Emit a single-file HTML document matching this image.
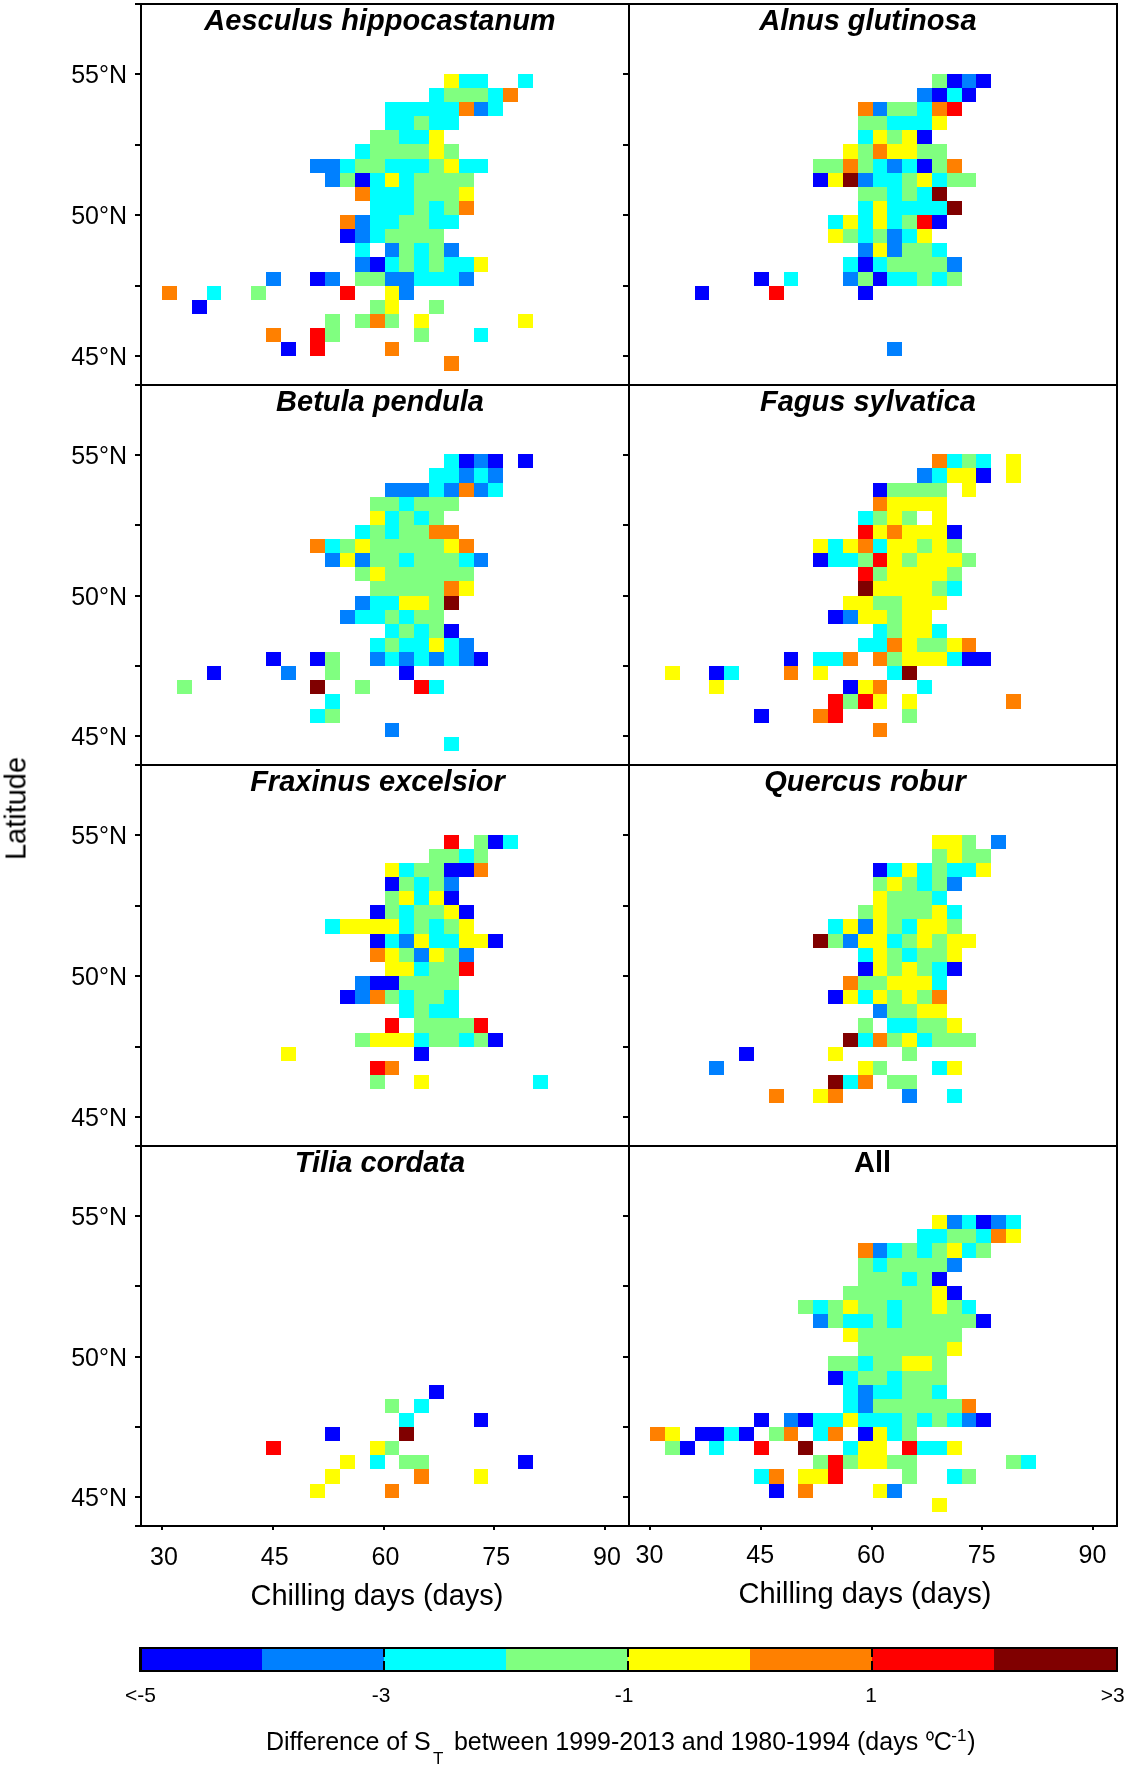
<!DOCTYPE html>
<html><head><meta charset="utf-8"><style>
html,body{margin:0;padding:0;background:#fff;}
body{width:1129px;height:1768px;overflow:hidden;}
svg{display:block;}
text{font-family:"Liberation Sans",sans-serif;fill:#000;}
.tt{font-size:29px;font-weight:bold;font-style:italic;}
.tt2{font-size:29px;font-weight:bold;}
.yl{font-size:25px;}
.xl{font-size:25px;}
.ax{font-size:29px;}
.cl{font-size:21px;}
.lb{font-size:25px;}
.lbs{font-size:17px;}
.lbo{font-size:22px;}
</style></head><body>
<svg width="1129" height="1768" viewBox="0 0 1129 1768" shape-rendering="crispEdges">
<rect width="1129" height="1768" fill="#fff"/>
<g><rect x="443.96" y="73.80" width="14.84" height="14.13" fill="#ffff00"/>
<rect x="458.80" y="73.80" width="14.84" height="14.13" fill="#00ffff"/>
<rect x="473.64" y="73.80" width="14.84" height="14.13" fill="#00ffff"/>
<rect x="518.16" y="73.80" width="14.84" height="14.13" fill="#00ffff"/>
<rect x="429.12" y="87.93" width="14.84" height="14.13" fill="#00ffff"/>
<rect x="443.96" y="87.93" width="14.84" height="14.13" fill="#80ff80"/>
<rect x="458.80" y="87.93" width="14.84" height="14.13" fill="#80ff80"/>
<rect x="473.64" y="87.93" width="14.84" height="14.13" fill="#80ff80"/>
<rect x="488.48" y="87.93" width="14.84" height="14.13" fill="#00ffff"/>
<rect x="503.32" y="87.93" width="14.84" height="14.13" fill="#ff8000"/>
<rect x="384.60" y="102.06" width="14.84" height="14.13" fill="#00ffff"/>
<rect x="399.44" y="102.06" width="14.84" height="14.13" fill="#00ffff"/>
<rect x="414.28" y="102.06" width="14.84" height="14.13" fill="#00ffff"/>
<rect x="429.12" y="102.06" width="14.84" height="14.13" fill="#00ffff"/>
<rect x="443.96" y="102.06" width="14.84" height="14.13" fill="#00ffff"/>
<rect x="458.80" y="102.06" width="14.84" height="14.13" fill="#ff8000"/>
<rect x="473.64" y="102.06" width="14.84" height="14.13" fill="#0080ff"/>
<rect x="488.48" y="102.06" width="14.84" height="14.13" fill="#00ffff"/>
<rect x="384.60" y="116.19" width="14.84" height="14.13" fill="#00ffff"/>
<rect x="399.44" y="116.19" width="14.84" height="14.13" fill="#00ffff"/>
<rect x="414.28" y="116.19" width="14.84" height="14.13" fill="#80ff80"/>
<rect x="429.12" y="116.19" width="14.84" height="14.13" fill="#00ffff"/>
<rect x="443.96" y="116.19" width="14.84" height="14.13" fill="#00ffff"/>
<rect x="369.76" y="130.32" width="14.84" height="14.13" fill="#80ff80"/>
<rect x="384.60" y="130.32" width="14.84" height="14.13" fill="#80ff80"/>
<rect x="399.44" y="130.32" width="14.84" height="14.13" fill="#00ffff"/>
<rect x="414.28" y="130.32" width="14.84" height="14.13" fill="#00ffff"/>
<rect x="429.12" y="130.32" width="14.84" height="14.13" fill="#ffff00"/>
<rect x="354.92" y="144.45" width="14.84" height="14.13" fill="#00ffff"/>
<rect x="369.76" y="144.45" width="14.84" height="14.13" fill="#80ff80"/>
<rect x="384.60" y="144.45" width="14.84" height="14.13" fill="#80ff80"/>
<rect x="399.44" y="144.45" width="14.84" height="14.13" fill="#80ff80"/>
<rect x="414.28" y="144.45" width="14.84" height="14.13" fill="#80ff80"/>
<rect x="429.12" y="144.45" width="14.84" height="14.13" fill="#ffff00"/>
<rect x="443.96" y="144.45" width="14.84" height="14.13" fill="#80ff80"/>
<rect x="310.40" y="158.58" width="14.84" height="14.13" fill="#0080ff"/>
<rect x="325.24" y="158.58" width="14.84" height="14.13" fill="#0080ff"/>
<rect x="340.08" y="158.58" width="14.84" height="14.13" fill="#00ffff"/>
<rect x="354.92" y="158.58" width="14.84" height="14.13" fill="#80ff80"/>
<rect x="369.76" y="158.58" width="14.84" height="14.13" fill="#80ff80"/>
<rect x="384.60" y="158.58" width="14.84" height="14.13" fill="#00ffff"/>
<rect x="399.44" y="158.58" width="14.84" height="14.13" fill="#00ffff"/>
<rect x="414.28" y="158.58" width="14.84" height="14.13" fill="#00ffff"/>
<rect x="429.12" y="158.58" width="14.84" height="14.13" fill="#80ff80"/>
<rect x="443.96" y="158.58" width="14.84" height="14.13" fill="#ffff00"/>
<rect x="458.80" y="158.58" width="14.84" height="14.13" fill="#00ffff"/>
<rect x="473.64" y="158.58" width="14.84" height="14.13" fill="#00ffff"/>
<rect x="325.24" y="172.71" width="14.84" height="14.13" fill="#0080ff"/>
<rect x="340.08" y="172.71" width="14.84" height="14.13" fill="#80ff80"/>
<rect x="354.92" y="172.71" width="14.84" height="14.13" fill="#0000ff"/>
<rect x="369.76" y="172.71" width="14.84" height="14.13" fill="#00ffff"/>
<rect x="384.60" y="172.71" width="14.84" height="14.13" fill="#ffff00"/>
<rect x="399.44" y="172.71" width="14.84" height="14.13" fill="#00ffff"/>
<rect x="414.28" y="172.71" width="14.84" height="14.13" fill="#80ff80"/>
<rect x="429.12" y="172.71" width="14.84" height="14.13" fill="#80ff80"/>
<rect x="443.96" y="172.71" width="14.84" height="14.13" fill="#80ff80"/>
<rect x="458.80" y="172.71" width="14.84" height="14.13" fill="#80ff80"/>
<rect x="354.92" y="186.84" width="14.84" height="14.13" fill="#ff8000"/>
<rect x="369.76" y="186.84" width="14.84" height="14.13" fill="#00ffff"/>
<rect x="384.60" y="186.84" width="14.84" height="14.13" fill="#00ffff"/>
<rect x="399.44" y="186.84" width="14.84" height="14.13" fill="#00ffff"/>
<rect x="414.28" y="186.84" width="14.84" height="14.13" fill="#80ff80"/>
<rect x="429.12" y="186.84" width="14.84" height="14.13" fill="#80ff80"/>
<rect x="443.96" y="186.84" width="14.84" height="14.13" fill="#80ff80"/>
<rect x="458.80" y="186.84" width="14.84" height="14.13" fill="#ffff00"/>
<rect x="369.76" y="200.97" width="14.84" height="14.13" fill="#00ffff"/>
<rect x="384.60" y="200.97" width="14.84" height="14.13" fill="#00ffff"/>
<rect x="399.44" y="200.97" width="14.84" height="14.13" fill="#00ffff"/>
<rect x="414.28" y="200.97" width="14.84" height="14.13" fill="#80ff80"/>
<rect x="429.12" y="200.97" width="14.84" height="14.13" fill="#00ffff"/>
<rect x="443.96" y="200.97" width="14.84" height="14.13" fill="#80ff80"/>
<rect x="458.80" y="200.97" width="14.84" height="14.13" fill="#ff8000"/>
<rect x="340.08" y="215.10" width="14.84" height="14.13" fill="#ff8000"/>
<rect x="354.92" y="215.10" width="14.84" height="14.13" fill="#0080ff"/>
<rect x="369.76" y="215.10" width="14.84" height="14.13" fill="#00ffff"/>
<rect x="384.60" y="215.10" width="14.84" height="14.13" fill="#00ffff"/>
<rect x="399.44" y="215.10" width="14.84" height="14.13" fill="#80ff80"/>
<rect x="414.28" y="215.10" width="14.84" height="14.13" fill="#80ff80"/>
<rect x="429.12" y="215.10" width="14.84" height="14.13" fill="#00ffff"/>
<rect x="443.96" y="215.10" width="14.84" height="14.13" fill="#00ffff"/>
<rect x="340.08" y="229.23" width="14.84" height="14.13" fill="#0000ff"/>
<rect x="354.92" y="229.23" width="14.84" height="14.13" fill="#0080ff"/>
<rect x="369.76" y="229.23" width="14.84" height="14.13" fill="#00ffff"/>
<rect x="384.60" y="229.23" width="14.84" height="14.13" fill="#80ff80"/>
<rect x="399.44" y="229.23" width="14.84" height="14.13" fill="#80ff80"/>
<rect x="414.28" y="229.23" width="14.84" height="14.13" fill="#80ff80"/>
<rect x="429.12" y="229.23" width="14.84" height="14.13" fill="#80ff80"/>
<rect x="354.92" y="243.36" width="14.84" height="14.13" fill="#00ffff"/>
<rect x="384.60" y="243.36" width="14.84" height="14.13" fill="#0080ff"/>
<rect x="399.44" y="243.36" width="14.84" height="14.13" fill="#80ff80"/>
<rect x="414.28" y="243.36" width="14.84" height="14.13" fill="#00ffff"/>
<rect x="429.12" y="243.36" width="14.84" height="14.13" fill="#80ff80"/>
<rect x="443.96" y="243.36" width="14.84" height="14.13" fill="#0080ff"/>
<rect x="354.92" y="257.49" width="14.84" height="14.13" fill="#0080ff"/>
<rect x="369.76" y="257.49" width="14.84" height="14.13" fill="#0000ff"/>
<rect x="384.60" y="257.49" width="14.84" height="14.13" fill="#00ffff"/>
<rect x="399.44" y="257.49" width="14.84" height="14.13" fill="#80ff80"/>
<rect x="414.28" y="257.49" width="14.84" height="14.13" fill="#00ffff"/>
<rect x="429.12" y="257.49" width="14.84" height="14.13" fill="#80ff80"/>
<rect x="443.96" y="257.49" width="14.84" height="14.13" fill="#00ffff"/>
<rect x="458.80" y="257.49" width="14.84" height="14.13" fill="#00ffff"/>
<rect x="473.64" y="257.49" width="14.84" height="14.13" fill="#ffff00"/>
<rect x="265.88" y="271.62" width="14.84" height="14.13" fill="#0080ff"/>
<rect x="310.40" y="271.62" width="14.84" height="14.13" fill="#0000ff"/>
<rect x="325.24" y="271.62" width="14.84" height="14.13" fill="#0080ff"/>
<rect x="354.92" y="271.62" width="14.84" height="14.13" fill="#80ff80"/>
<rect x="369.76" y="271.62" width="14.84" height="14.13" fill="#80ff80"/>
<rect x="384.60" y="271.62" width="14.84" height="14.13" fill="#0080ff"/>
<rect x="399.44" y="271.62" width="14.84" height="14.13" fill="#0080ff"/>
<rect x="414.28" y="271.62" width="14.84" height="14.13" fill="#00ffff"/>
<rect x="429.12" y="271.62" width="14.84" height="14.13" fill="#00ffff"/>
<rect x="443.96" y="271.62" width="14.84" height="14.13" fill="#00ffff"/>
<rect x="458.80" y="271.62" width="14.84" height="14.13" fill="#0080ff"/>
<rect x="162.00" y="285.75" width="14.84" height="14.13" fill="#ff8000"/>
<rect x="206.52" y="285.75" width="14.84" height="14.13" fill="#00ffff"/>
<rect x="251.04" y="285.75" width="14.84" height="14.13" fill="#80ff80"/>
<rect x="340.08" y="285.75" width="14.84" height="14.13" fill="#ff0000"/>
<rect x="384.60" y="285.75" width="14.84" height="14.13" fill="#ffff00"/>
<rect x="399.44" y="285.75" width="14.84" height="14.13" fill="#0080ff"/>
<rect x="191.68" y="299.88" width="14.84" height="14.13" fill="#0000ff"/>
<rect x="369.76" y="299.88" width="14.84" height="14.13" fill="#80ff80"/>
<rect x="384.60" y="299.88" width="14.84" height="14.13" fill="#ffff00"/>
<rect x="429.12" y="299.88" width="14.84" height="14.13" fill="#80ff80"/>
<rect x="325.24" y="314.01" width="14.84" height="14.13" fill="#80ff80"/>
<rect x="354.92" y="314.01" width="14.84" height="14.13" fill="#80ff80"/>
<rect x="369.76" y="314.01" width="14.84" height="14.13" fill="#ff8000"/>
<rect x="384.60" y="314.01" width="14.84" height="14.13" fill="#80ff80"/>
<rect x="414.28" y="314.01" width="14.84" height="14.13" fill="#ffff00"/>
<rect x="518.16" y="314.01" width="14.84" height="14.13" fill="#ffff00"/>
<rect x="265.88" y="328.14" width="14.84" height="14.13" fill="#ff8000"/>
<rect x="310.40" y="328.14" width="14.84" height="14.13" fill="#ff0000"/>
<rect x="325.24" y="328.14" width="14.84" height="14.13" fill="#80ff80"/>
<rect x="414.28" y="328.14" width="14.84" height="14.13" fill="#80ff80"/>
<rect x="473.64" y="328.14" width="14.84" height="14.13" fill="#00ffff"/>
<rect x="280.72" y="342.27" width="14.84" height="14.13" fill="#0000ff"/>
<rect x="310.40" y="342.27" width="14.84" height="14.13" fill="#ff0000"/>
<rect x="384.60" y="342.27" width="14.84" height="14.13" fill="#ff8000"/>
<rect x="443.96" y="356.40" width="14.84" height="14.13" fill="#ff8000"/>
<rect x="931.96" y="73.80" width="14.84" height="14.13" fill="#80ff80"/>
<rect x="946.80" y="73.80" width="14.84" height="14.13" fill="#0000ff"/>
<rect x="961.64" y="73.80" width="14.84" height="14.13" fill="#0080ff"/>
<rect x="976.48" y="73.80" width="14.84" height="14.13" fill="#0000ff"/>
<rect x="917.12" y="87.93" width="14.84" height="14.13" fill="#0080ff"/>
<rect x="931.96" y="87.93" width="14.84" height="14.13" fill="#0000ff"/>
<rect x="946.80" y="87.93" width="14.84" height="14.13" fill="#00ffff"/>
<rect x="961.64" y="87.93" width="14.84" height="14.13" fill="#0000ff"/>
<rect x="857.76" y="102.06" width="14.84" height="14.13" fill="#ff8000"/>
<rect x="872.60" y="102.06" width="14.84" height="14.13" fill="#0080ff"/>
<rect x="887.44" y="102.06" width="14.84" height="14.13" fill="#80ff80"/>
<rect x="902.28" y="102.06" width="14.84" height="14.13" fill="#80ff80"/>
<rect x="917.12" y="102.06" width="14.84" height="14.13" fill="#00ffff"/>
<rect x="931.96" y="102.06" width="14.84" height="14.13" fill="#ff8000"/>
<rect x="946.80" y="102.06" width="14.84" height="14.13" fill="#ff0000"/>
<rect x="857.76" y="116.19" width="14.84" height="14.13" fill="#80ff80"/>
<rect x="872.60" y="116.19" width="14.84" height="14.13" fill="#80ff80"/>
<rect x="887.44" y="116.19" width="14.84" height="14.13" fill="#00ffff"/>
<rect x="902.28" y="116.19" width="14.84" height="14.13" fill="#00ffff"/>
<rect x="917.12" y="116.19" width="14.84" height="14.13" fill="#00ffff"/>
<rect x="931.96" y="116.19" width="14.84" height="14.13" fill="#ffff00"/>
<rect x="857.76" y="130.32" width="14.84" height="14.13" fill="#00ffff"/>
<rect x="872.60" y="130.32" width="14.84" height="14.13" fill="#ffff00"/>
<rect x="887.44" y="130.32" width="14.84" height="14.13" fill="#80ff80"/>
<rect x="902.28" y="130.32" width="14.84" height="14.13" fill="#ffff00"/>
<rect x="917.12" y="130.32" width="14.84" height="14.13" fill="#0000ff"/>
<rect x="842.92" y="144.45" width="14.84" height="14.13" fill="#ffff00"/>
<rect x="857.76" y="144.45" width="14.84" height="14.13" fill="#80ff80"/>
<rect x="872.60" y="144.45" width="14.84" height="14.13" fill="#ff8000"/>
<rect x="887.44" y="144.45" width="14.84" height="14.13" fill="#ffff00"/>
<rect x="902.28" y="144.45" width="14.84" height="14.13" fill="#ffff00"/>
<rect x="917.12" y="144.45" width="14.84" height="14.13" fill="#80ff80"/>
<rect x="931.96" y="144.45" width="14.84" height="14.13" fill="#80ff80"/>
<rect x="813.24" y="158.58" width="14.84" height="14.13" fill="#80ff80"/>
<rect x="828.08" y="158.58" width="14.84" height="14.13" fill="#80ff80"/>
<rect x="842.92" y="158.58" width="14.84" height="14.13" fill="#ff8000"/>
<rect x="857.76" y="158.58" width="14.84" height="14.13" fill="#80ff80"/>
<rect x="872.60" y="158.58" width="14.84" height="14.13" fill="#00ffff"/>
<rect x="887.44" y="158.58" width="14.84" height="14.13" fill="#0080ff"/>
<rect x="902.28" y="158.58" width="14.84" height="14.13" fill="#00ffff"/>
<rect x="917.12" y="158.58" width="14.84" height="14.13" fill="#0000ff"/>
<rect x="931.96" y="158.58" width="14.84" height="14.13" fill="#80ff80"/>
<rect x="946.80" y="158.58" width="14.84" height="14.13" fill="#ff8000"/>
<rect x="813.24" y="172.71" width="14.84" height="14.13" fill="#0000ff"/>
<rect x="828.08" y="172.71" width="14.84" height="14.13" fill="#ffff00"/>
<rect x="842.92" y="172.71" width="14.84" height="14.13" fill="#800000"/>
<rect x="857.76" y="172.71" width="14.84" height="14.13" fill="#0080ff"/>
<rect x="872.60" y="172.71" width="14.84" height="14.13" fill="#00ffff"/>
<rect x="887.44" y="172.71" width="14.84" height="14.13" fill="#00ffff"/>
<rect x="902.28" y="172.71" width="14.84" height="14.13" fill="#80ff80"/>
<rect x="917.12" y="172.71" width="14.84" height="14.13" fill="#ffff00"/>
<rect x="931.96" y="172.71" width="14.84" height="14.13" fill="#00ffff"/>
<rect x="946.80" y="172.71" width="14.84" height="14.13" fill="#80ff80"/>
<rect x="961.64" y="172.71" width="14.84" height="14.13" fill="#80ff80"/>
<rect x="857.76" y="186.84" width="14.84" height="14.13" fill="#80ff80"/>
<rect x="872.60" y="186.84" width="14.84" height="14.13" fill="#80ff80"/>
<rect x="887.44" y="186.84" width="14.84" height="14.13" fill="#00ffff"/>
<rect x="902.28" y="186.84" width="14.84" height="14.13" fill="#80ff80"/>
<rect x="917.12" y="186.84" width="14.84" height="14.13" fill="#00ffff"/>
<rect x="931.96" y="186.84" width="14.84" height="14.13" fill="#800000"/>
<rect x="857.76" y="200.97" width="14.84" height="14.13" fill="#00ffff"/>
<rect x="872.60" y="200.97" width="14.84" height="14.13" fill="#ffff00"/>
<rect x="887.44" y="200.97" width="14.84" height="14.13" fill="#00ffff"/>
<rect x="902.28" y="200.97" width="14.84" height="14.13" fill="#00ffff"/>
<rect x="917.12" y="200.97" width="14.84" height="14.13" fill="#00ffff"/>
<rect x="931.96" y="200.97" width="14.84" height="14.13" fill="#00ffff"/>
<rect x="946.80" y="200.97" width="14.84" height="14.13" fill="#800000"/>
<rect x="828.08" y="215.10" width="14.84" height="14.13" fill="#00ffff"/>
<rect x="842.92" y="215.10" width="14.84" height="14.13" fill="#ffff00"/>
<rect x="857.76" y="215.10" width="14.84" height="14.13" fill="#00ffff"/>
<rect x="872.60" y="215.10" width="14.84" height="14.13" fill="#ffff00"/>
<rect x="887.44" y="215.10" width="14.84" height="14.13" fill="#00ffff"/>
<rect x="902.28" y="215.10" width="14.84" height="14.13" fill="#80ff80"/>
<rect x="917.12" y="215.10" width="14.84" height="14.13" fill="#ff0000"/>
<rect x="931.96" y="215.10" width="14.84" height="14.13" fill="#0000ff"/>
<rect x="828.08" y="229.23" width="14.84" height="14.13" fill="#ffff00"/>
<rect x="842.92" y="229.23" width="14.84" height="14.13" fill="#80ff80"/>
<rect x="857.76" y="229.23" width="14.84" height="14.13" fill="#00ffff"/>
<rect x="872.60" y="229.23" width="14.84" height="14.13" fill="#80ff80"/>
<rect x="887.44" y="229.23" width="14.84" height="14.13" fill="#0080ff"/>
<rect x="902.28" y="229.23" width="14.84" height="14.13" fill="#00ffff"/>
<rect x="917.12" y="229.23" width="14.84" height="14.13" fill="#ffff00"/>
<rect x="857.76" y="243.36" width="14.84" height="14.13" fill="#0080ff"/>
<rect x="872.60" y="243.36" width="14.84" height="14.13" fill="#ffff00"/>
<rect x="887.44" y="243.36" width="14.84" height="14.13" fill="#0080ff"/>
<rect x="902.28" y="243.36" width="14.84" height="14.13" fill="#80ff80"/>
<rect x="917.12" y="243.36" width="14.84" height="14.13" fill="#80ff80"/>
<rect x="931.96" y="243.36" width="14.84" height="14.13" fill="#00ffff"/>
<rect x="842.92" y="257.49" width="14.84" height="14.13" fill="#00ffff"/>
<rect x="857.76" y="257.49" width="14.84" height="14.13" fill="#0000ff"/>
<rect x="872.60" y="257.49" width="14.84" height="14.13" fill="#00ffff"/>
<rect x="887.44" y="257.49" width="14.84" height="14.13" fill="#80ff80"/>
<rect x="902.28" y="257.49" width="14.84" height="14.13" fill="#80ff80"/>
<rect x="917.12" y="257.49" width="14.84" height="14.13" fill="#80ff80"/>
<rect x="931.96" y="257.49" width="14.84" height="14.13" fill="#80ff80"/>
<rect x="946.80" y="257.49" width="14.84" height="14.13" fill="#0080ff"/>
<rect x="753.88" y="271.62" width="14.84" height="14.13" fill="#0000ff"/>
<rect x="783.56" y="271.62" width="14.84" height="14.13" fill="#00ffff"/>
<rect x="842.92" y="271.62" width="14.84" height="14.13" fill="#0080ff"/>
<rect x="857.76" y="271.62" width="14.84" height="14.13" fill="#80ff80"/>
<rect x="872.60" y="271.62" width="14.84" height="14.13" fill="#0000ff"/>
<rect x="887.44" y="271.62" width="14.84" height="14.13" fill="#00ffff"/>
<rect x="902.28" y="271.62" width="14.84" height="14.13" fill="#00ffff"/>
<rect x="917.12" y="271.62" width="14.84" height="14.13" fill="#80ff80"/>
<rect x="931.96" y="271.62" width="14.84" height="14.13" fill="#00ffff"/>
<rect x="946.80" y="271.62" width="14.84" height="14.13" fill="#80ff80"/>
<rect x="694.52" y="285.75" width="14.84" height="14.13" fill="#0000ff"/>
<rect x="768.72" y="285.75" width="14.84" height="14.13" fill="#ff0000"/>
<rect x="857.76" y="285.75" width="14.84" height="14.13" fill="#0000ff"/>
<rect x="887.44" y="342.27" width="14.84" height="14.13" fill="#0080ff"/>
<rect x="443.96" y="454.25" width="14.84" height="14.13" fill="#00ffff"/>
<rect x="458.80" y="454.25" width="14.84" height="14.13" fill="#0000ff"/>
<rect x="473.64" y="454.25" width="14.84" height="14.13" fill="#0080ff"/>
<rect x="488.48" y="454.25" width="14.84" height="14.13" fill="#0000ff"/>
<rect x="518.16" y="454.25" width="14.84" height="14.13" fill="#0000ff"/>
<rect x="429.12" y="468.38" width="14.84" height="14.13" fill="#00ffff"/>
<rect x="443.96" y="468.38" width="14.84" height="14.13" fill="#00ffff"/>
<rect x="458.80" y="468.38" width="14.84" height="14.13" fill="#0080ff"/>
<rect x="473.64" y="468.38" width="14.84" height="14.13" fill="#00ffff"/>
<rect x="488.48" y="468.38" width="14.84" height="14.13" fill="#0080ff"/>
<rect x="384.60" y="482.51" width="14.84" height="14.13" fill="#0080ff"/>
<rect x="399.44" y="482.51" width="14.84" height="14.13" fill="#0080ff"/>
<rect x="414.28" y="482.51" width="14.84" height="14.13" fill="#0080ff"/>
<rect x="429.12" y="482.51" width="14.84" height="14.13" fill="#00ffff"/>
<rect x="443.96" y="482.51" width="14.84" height="14.13" fill="#0080ff"/>
<rect x="458.80" y="482.51" width="14.84" height="14.13" fill="#ff8000"/>
<rect x="473.64" y="482.51" width="14.84" height="14.13" fill="#0080ff"/>
<rect x="488.48" y="482.51" width="14.84" height="14.13" fill="#00ffff"/>
<rect x="369.76" y="496.64" width="14.84" height="14.13" fill="#80ff80"/>
<rect x="384.60" y="496.64" width="14.84" height="14.13" fill="#80ff80"/>
<rect x="399.44" y="496.64" width="14.84" height="14.13" fill="#00ffff"/>
<rect x="414.28" y="496.64" width="14.84" height="14.13" fill="#80ff80"/>
<rect x="429.12" y="496.64" width="14.84" height="14.13" fill="#80ff80"/>
<rect x="443.96" y="496.64" width="14.84" height="14.13" fill="#80ff80"/>
<rect x="369.76" y="510.77" width="14.84" height="14.13" fill="#ffff00"/>
<rect x="384.60" y="510.77" width="14.84" height="14.13" fill="#00ffff"/>
<rect x="399.44" y="510.77" width="14.84" height="14.13" fill="#80ff80"/>
<rect x="414.28" y="510.77" width="14.84" height="14.13" fill="#00ffff"/>
<rect x="429.12" y="510.77" width="14.84" height="14.13" fill="#80ff80"/>
<rect x="354.92" y="524.90" width="14.84" height="14.13" fill="#00ffff"/>
<rect x="369.76" y="524.90" width="14.84" height="14.13" fill="#80ff80"/>
<rect x="384.60" y="524.90" width="14.84" height="14.13" fill="#00ffff"/>
<rect x="399.44" y="524.90" width="14.84" height="14.13" fill="#80ff80"/>
<rect x="414.28" y="524.90" width="14.84" height="14.13" fill="#80ff80"/>
<rect x="429.12" y="524.90" width="14.84" height="14.13" fill="#ff8000"/>
<rect x="443.96" y="524.90" width="14.84" height="14.13" fill="#ff8000"/>
<rect x="310.40" y="539.03" width="14.84" height="14.13" fill="#ff8000"/>
<rect x="325.24" y="539.03" width="14.84" height="14.13" fill="#00ffff"/>
<rect x="340.08" y="539.03" width="14.84" height="14.13" fill="#80ff80"/>
<rect x="354.92" y="539.03" width="14.84" height="14.13" fill="#ffff00"/>
<rect x="369.76" y="539.03" width="14.84" height="14.13" fill="#80ff80"/>
<rect x="384.60" y="539.03" width="14.84" height="14.13" fill="#80ff80"/>
<rect x="399.44" y="539.03" width="14.84" height="14.13" fill="#80ff80"/>
<rect x="414.28" y="539.03" width="14.84" height="14.13" fill="#80ff80"/>
<rect x="429.12" y="539.03" width="14.84" height="14.13" fill="#80ff80"/>
<rect x="443.96" y="539.03" width="14.84" height="14.13" fill="#ffff00"/>
<rect x="458.80" y="539.03" width="14.84" height="14.13" fill="#ff8000"/>
<rect x="325.24" y="553.16" width="14.84" height="14.13" fill="#0080ff"/>
<rect x="340.08" y="553.16" width="14.84" height="14.13" fill="#ffff00"/>
<rect x="354.92" y="553.16" width="14.84" height="14.13" fill="#0080ff"/>
<rect x="369.76" y="553.16" width="14.84" height="14.13" fill="#80ff80"/>
<rect x="384.60" y="553.16" width="14.84" height="14.13" fill="#80ff80"/>
<rect x="399.44" y="553.16" width="14.84" height="14.13" fill="#00ffff"/>
<rect x="414.28" y="553.16" width="14.84" height="14.13" fill="#80ff80"/>
<rect x="429.12" y="553.16" width="14.84" height="14.13" fill="#80ff80"/>
<rect x="443.96" y="553.16" width="14.84" height="14.13" fill="#80ff80"/>
<rect x="458.80" y="553.16" width="14.84" height="14.13" fill="#00ffff"/>
<rect x="473.64" y="553.16" width="14.84" height="14.13" fill="#0080ff"/>
<rect x="354.92" y="567.29" width="14.84" height="14.13" fill="#80ff80"/>
<rect x="369.76" y="567.29" width="14.84" height="14.13" fill="#ffff00"/>
<rect x="384.60" y="567.29" width="14.84" height="14.13" fill="#80ff80"/>
<rect x="399.44" y="567.29" width="14.84" height="14.13" fill="#80ff80"/>
<rect x="414.28" y="567.29" width="14.84" height="14.13" fill="#80ff80"/>
<rect x="429.12" y="567.29" width="14.84" height="14.13" fill="#80ff80"/>
<rect x="443.96" y="567.29" width="14.84" height="14.13" fill="#80ff80"/>
<rect x="458.80" y="567.29" width="14.84" height="14.13" fill="#80ff80"/>
<rect x="369.76" y="581.42" width="14.84" height="14.13" fill="#80ff80"/>
<rect x="384.60" y="581.42" width="14.84" height="14.13" fill="#80ff80"/>
<rect x="399.44" y="581.42" width="14.84" height="14.13" fill="#80ff80"/>
<rect x="414.28" y="581.42" width="14.84" height="14.13" fill="#80ff80"/>
<rect x="429.12" y="581.42" width="14.84" height="14.13" fill="#80ff80"/>
<rect x="443.96" y="581.42" width="14.84" height="14.13" fill="#ff8000"/>
<rect x="458.80" y="581.42" width="14.84" height="14.13" fill="#ffff00"/>
<rect x="354.92" y="595.55" width="14.84" height="14.13" fill="#0080ff"/>
<rect x="369.76" y="595.55" width="14.84" height="14.13" fill="#00ffff"/>
<rect x="384.60" y="595.55" width="14.84" height="14.13" fill="#00ffff"/>
<rect x="399.44" y="595.55" width="14.84" height="14.13" fill="#ffff00"/>
<rect x="414.28" y="595.55" width="14.84" height="14.13" fill="#ffff00"/>
<rect x="429.12" y="595.55" width="14.84" height="14.13" fill="#80ff80"/>
<rect x="443.96" y="595.55" width="14.84" height="14.13" fill="#800000"/>
<rect x="340.08" y="609.68" width="14.84" height="14.13" fill="#0080ff"/>
<rect x="354.92" y="609.68" width="14.84" height="14.13" fill="#00ffff"/>
<rect x="369.76" y="609.68" width="14.84" height="14.13" fill="#00ffff"/>
<rect x="384.60" y="609.68" width="14.84" height="14.13" fill="#80ff80"/>
<rect x="399.44" y="609.68" width="14.84" height="14.13" fill="#00ffff"/>
<rect x="414.28" y="609.68" width="14.84" height="14.13" fill="#80ff80"/>
<rect x="429.12" y="609.68" width="14.84" height="14.13" fill="#80ff80"/>
<rect x="384.60" y="623.81" width="14.84" height="14.13" fill="#00ffff"/>
<rect x="399.44" y="623.81" width="14.84" height="14.13" fill="#80ff80"/>
<rect x="414.28" y="623.81" width="14.84" height="14.13" fill="#00ffff"/>
<rect x="429.12" y="623.81" width="14.84" height="14.13" fill="#80ff80"/>
<rect x="443.96" y="623.81" width="14.84" height="14.13" fill="#0000ff"/>
<rect x="369.76" y="637.94" width="14.84" height="14.13" fill="#00ffff"/>
<rect x="384.60" y="637.94" width="14.84" height="14.13" fill="#80ff80"/>
<rect x="399.44" y="637.94" width="14.84" height="14.13" fill="#00ffff"/>
<rect x="414.28" y="637.94" width="14.84" height="14.13" fill="#00ffff"/>
<rect x="429.12" y="637.94" width="14.84" height="14.13" fill="#ffff00"/>
<rect x="443.96" y="637.94" width="14.84" height="14.13" fill="#00ffff"/>
<rect x="458.80" y="637.94" width="14.84" height="14.13" fill="#0080ff"/>
<rect x="265.88" y="652.07" width="14.84" height="14.13" fill="#0000ff"/>
<rect x="310.40" y="652.07" width="14.84" height="14.13" fill="#0000ff"/>
<rect x="325.24" y="652.07" width="14.84" height="14.13" fill="#80ff80"/>
<rect x="369.76" y="652.07" width="14.84" height="14.13" fill="#0080ff"/>
<rect x="384.60" y="652.07" width="14.84" height="14.13" fill="#00ffff"/>
<rect x="399.44" y="652.07" width="14.84" height="14.13" fill="#0080ff"/>
<rect x="414.28" y="652.07" width="14.84" height="14.13" fill="#00ffff"/>
<rect x="429.12" y="652.07" width="14.84" height="14.13" fill="#0080ff"/>
<rect x="443.96" y="652.07" width="14.84" height="14.13" fill="#00ffff"/>
<rect x="458.80" y="652.07" width="14.84" height="14.13" fill="#0080ff"/>
<rect x="473.64" y="652.07" width="14.84" height="14.13" fill="#0000ff"/>
<rect x="206.52" y="666.20" width="14.84" height="14.13" fill="#0000ff"/>
<rect x="280.72" y="666.20" width="14.84" height="14.13" fill="#0080ff"/>
<rect x="325.24" y="666.20" width="14.84" height="14.13" fill="#80ff80"/>
<rect x="399.44" y="666.20" width="14.84" height="14.13" fill="#0000ff"/>
<rect x="176.84" y="680.33" width="14.84" height="14.13" fill="#80ff80"/>
<rect x="310.40" y="680.33" width="14.84" height="14.13" fill="#800000"/>
<rect x="354.92" y="680.33" width="14.84" height="14.13" fill="#80ff80"/>
<rect x="414.28" y="680.33" width="14.84" height="14.13" fill="#ff0000"/>
<rect x="429.12" y="680.33" width="14.84" height="14.13" fill="#00ffff"/>
<rect x="325.24" y="694.46" width="14.84" height="14.13" fill="#00ffff"/>
<rect x="310.40" y="708.59" width="14.84" height="14.13" fill="#00ffff"/>
<rect x="325.24" y="708.59" width="14.84" height="14.13" fill="#80ff80"/>
<rect x="384.60" y="722.72" width="14.84" height="14.13" fill="#0080ff"/>
<rect x="443.96" y="736.85" width="14.84" height="14.13" fill="#00ffff"/>
<rect x="931.96" y="454.25" width="14.84" height="14.13" fill="#ff8000"/>
<rect x="946.80" y="454.25" width="14.84" height="14.13" fill="#00ffff"/>
<rect x="961.64" y="454.25" width="14.84" height="14.13" fill="#80ff80"/>
<rect x="976.48" y="454.25" width="14.84" height="14.13" fill="#00ffff"/>
<rect x="1006.16" y="454.25" width="14.84" height="14.13" fill="#ffff00"/>
<rect x="917.12" y="468.38" width="14.84" height="14.13" fill="#0080ff"/>
<rect x="931.96" y="468.38" width="14.84" height="14.13" fill="#00ffff"/>
<rect x="946.80" y="468.38" width="14.84" height="14.13" fill="#ffff00"/>
<rect x="961.64" y="468.38" width="14.84" height="14.13" fill="#ffff00"/>
<rect x="976.48" y="468.38" width="14.84" height="14.13" fill="#0000ff"/>
<rect x="1006.16" y="468.38" width="14.84" height="14.13" fill="#ffff00"/>
<rect x="872.60" y="482.51" width="14.84" height="14.13" fill="#0000ff"/>
<rect x="887.44" y="482.51" width="14.84" height="14.13" fill="#80ff80"/>
<rect x="902.28" y="482.51" width="14.84" height="14.13" fill="#80ff80"/>
<rect x="917.12" y="482.51" width="14.84" height="14.13" fill="#80ff80"/>
<rect x="931.96" y="482.51" width="14.84" height="14.13" fill="#80ff80"/>
<rect x="961.64" y="482.51" width="14.84" height="14.13" fill="#ffff00"/>
<rect x="872.60" y="496.64" width="14.84" height="14.13" fill="#ff8000"/>
<rect x="887.44" y="496.64" width="14.84" height="14.13" fill="#ffff00"/>
<rect x="902.28" y="496.64" width="14.84" height="14.13" fill="#ffff00"/>
<rect x="917.12" y="496.64" width="14.84" height="14.13" fill="#ffff00"/>
<rect x="931.96" y="496.64" width="14.84" height="14.13" fill="#ffff00"/>
<rect x="857.76" y="510.77" width="14.84" height="14.13" fill="#00ffff"/>
<rect x="872.60" y="510.77" width="14.84" height="14.13" fill="#80ff80"/>
<rect x="887.44" y="510.77" width="14.84" height="14.13" fill="#ffff00"/>
<rect x="902.28" y="510.77" width="14.84" height="14.13" fill="#80ff80"/>
<rect x="931.96" y="510.77" width="14.84" height="14.13" fill="#ffff00"/>
<rect x="857.76" y="524.90" width="14.84" height="14.13" fill="#ff0000"/>
<rect x="872.60" y="524.90" width="14.84" height="14.13" fill="#ffff00"/>
<rect x="887.44" y="524.90" width="14.84" height="14.13" fill="#ff8000"/>
<rect x="902.28" y="524.90" width="14.84" height="14.13" fill="#ffff00"/>
<rect x="917.12" y="524.90" width="14.84" height="14.13" fill="#ffff00"/>
<rect x="931.96" y="524.90" width="14.84" height="14.13" fill="#ffff00"/>
<rect x="946.80" y="524.90" width="14.84" height="14.13" fill="#0000ff"/>
<rect x="813.24" y="539.03" width="14.84" height="14.13" fill="#ffff00"/>
<rect x="828.08" y="539.03" width="14.84" height="14.13" fill="#00ffff"/>
<rect x="842.92" y="539.03" width="14.84" height="14.13" fill="#ffff00"/>
<rect x="857.76" y="539.03" width="14.84" height="14.13" fill="#ff8000"/>
<rect x="872.60" y="539.03" width="14.84" height="14.13" fill="#00ffff"/>
<rect x="887.44" y="539.03" width="14.84" height="14.13" fill="#ffff00"/>
<rect x="902.28" y="539.03" width="14.84" height="14.13" fill="#ffff00"/>
<rect x="917.12" y="539.03" width="14.84" height="14.13" fill="#80ff80"/>
<rect x="931.96" y="539.03" width="14.84" height="14.13" fill="#ffff00"/>
<rect x="946.80" y="539.03" width="14.84" height="14.13" fill="#80ff80"/>
<rect x="813.24" y="553.16" width="14.84" height="14.13" fill="#0000ff"/>
<rect x="828.08" y="553.16" width="14.84" height="14.13" fill="#00ffff"/>
<rect x="842.92" y="553.16" width="14.84" height="14.13" fill="#00ffff"/>
<rect x="857.76" y="553.16" width="14.84" height="14.13" fill="#80ff80"/>
<rect x="872.60" y="553.16" width="14.84" height="14.13" fill="#ff0000"/>
<rect x="887.44" y="553.16" width="14.84" height="14.13" fill="#ffff00"/>
<rect x="902.28" y="553.16" width="14.84" height="14.13" fill="#80ff80"/>
<rect x="917.12" y="553.16" width="14.84" height="14.13" fill="#ffff00"/>
<rect x="931.96" y="553.16" width="14.84" height="14.13" fill="#ffff00"/>
<rect x="946.80" y="553.16" width="14.84" height="14.13" fill="#ffff00"/>
<rect x="961.64" y="553.16" width="14.84" height="14.13" fill="#80ff80"/>
<rect x="857.76" y="567.29" width="14.84" height="14.13" fill="#ff0000"/>
<rect x="872.60" y="567.29" width="14.84" height="14.13" fill="#80ff80"/>
<rect x="887.44" y="567.29" width="14.84" height="14.13" fill="#ffff00"/>
<rect x="902.28" y="567.29" width="14.84" height="14.13" fill="#ffff00"/>
<rect x="917.12" y="567.29" width="14.84" height="14.13" fill="#ffff00"/>
<rect x="931.96" y="567.29" width="14.84" height="14.13" fill="#ffff00"/>
<rect x="946.80" y="567.29" width="14.84" height="14.13" fill="#80ff80"/>
<rect x="857.76" y="581.42" width="14.84" height="14.13" fill="#800000"/>
<rect x="872.60" y="581.42" width="14.84" height="14.13" fill="#ffff00"/>
<rect x="887.44" y="581.42" width="14.84" height="14.13" fill="#ffff00"/>
<rect x="902.28" y="581.42" width="14.84" height="14.13" fill="#ffff00"/>
<rect x="917.12" y="581.42" width="14.84" height="14.13" fill="#ffff00"/>
<rect x="931.96" y="581.42" width="14.84" height="14.13" fill="#80ff80"/>
<rect x="946.80" y="581.42" width="14.84" height="14.13" fill="#00ffff"/>
<rect x="842.92" y="595.55" width="14.84" height="14.13" fill="#ffff00"/>
<rect x="857.76" y="595.55" width="14.84" height="14.13" fill="#ffff00"/>
<rect x="872.60" y="595.55" width="14.84" height="14.13" fill="#80ff80"/>
<rect x="887.44" y="595.55" width="14.84" height="14.13" fill="#80ff80"/>
<rect x="902.28" y="595.55" width="14.84" height="14.13" fill="#ffff00"/>
<rect x="917.12" y="595.55" width="14.84" height="14.13" fill="#ffff00"/>
<rect x="931.96" y="595.55" width="14.84" height="14.13" fill="#ffff00"/>
<rect x="828.08" y="609.68" width="14.84" height="14.13" fill="#0000ff"/>
<rect x="842.92" y="609.68" width="14.84" height="14.13" fill="#0080ff"/>
<rect x="857.76" y="609.68" width="14.84" height="14.13" fill="#ffff00"/>
<rect x="872.60" y="609.68" width="14.84" height="14.13" fill="#ffff00"/>
<rect x="887.44" y="609.68" width="14.84" height="14.13" fill="#80ff80"/>
<rect x="902.28" y="609.68" width="14.84" height="14.13" fill="#ffff00"/>
<rect x="917.12" y="609.68" width="14.84" height="14.13" fill="#ffff00"/>
<rect x="872.60" y="623.81" width="14.84" height="14.13" fill="#00ffff"/>
<rect x="887.44" y="623.81" width="14.84" height="14.13" fill="#80ff80"/>
<rect x="902.28" y="623.81" width="14.84" height="14.13" fill="#ffff00"/>
<rect x="917.12" y="623.81" width="14.84" height="14.13" fill="#ffff00"/>
<rect x="931.96" y="623.81" width="14.84" height="14.13" fill="#00ffff"/>
<rect x="857.76" y="637.94" width="14.84" height="14.13" fill="#00ffff"/>
<rect x="872.60" y="637.94" width="14.84" height="14.13" fill="#00ffff"/>
<rect x="887.44" y="637.94" width="14.84" height="14.13" fill="#ff8000"/>
<rect x="902.28" y="637.94" width="14.84" height="14.13" fill="#ffff00"/>
<rect x="917.12" y="637.94" width="14.84" height="14.13" fill="#80ff80"/>
<rect x="931.96" y="637.94" width="14.84" height="14.13" fill="#80ff80"/>
<rect x="946.80" y="637.94" width="14.84" height="14.13" fill="#ffff00"/>
<rect x="961.64" y="637.94" width="14.84" height="14.13" fill="#ff8000"/>
<rect x="783.56" y="652.07" width="14.84" height="14.13" fill="#0000ff"/>
<rect x="813.24" y="652.07" width="14.84" height="14.13" fill="#00ffff"/>
<rect x="828.08" y="652.07" width="14.84" height="14.13" fill="#00ffff"/>
<rect x="842.92" y="652.07" width="14.84" height="14.13" fill="#ff8000"/>
<rect x="872.60" y="652.07" width="14.84" height="14.13" fill="#ff8000"/>
<rect x="887.44" y="652.07" width="14.84" height="14.13" fill="#80ff80"/>
<rect x="902.28" y="652.07" width="14.84" height="14.13" fill="#ffff00"/>
<rect x="917.12" y="652.07" width="14.84" height="14.13" fill="#ffff00"/>
<rect x="931.96" y="652.07" width="14.84" height="14.13" fill="#ffff00"/>
<rect x="946.80" y="652.07" width="14.84" height="14.13" fill="#00ffff"/>
<rect x="961.64" y="652.07" width="14.84" height="14.13" fill="#0000ff"/>
<rect x="976.48" y="652.07" width="14.84" height="14.13" fill="#0000ff"/>
<rect x="664.84" y="666.20" width="14.84" height="14.13" fill="#ffff00"/>
<rect x="709.36" y="666.20" width="14.84" height="14.13" fill="#0000ff"/>
<rect x="724.20" y="666.20" width="14.84" height="14.13" fill="#00ffff"/>
<rect x="783.56" y="666.20" width="14.84" height="14.13" fill="#ff8000"/>
<rect x="813.24" y="666.20" width="14.84" height="14.13" fill="#ffff00"/>
<rect x="887.44" y="666.20" width="14.84" height="14.13" fill="#00ffff"/>
<rect x="902.28" y="666.20" width="14.84" height="14.13" fill="#800000"/>
<rect x="709.36" y="680.33" width="14.84" height="14.13" fill="#ffff00"/>
<rect x="842.92" y="680.33" width="14.84" height="14.13" fill="#0000ff"/>
<rect x="857.76" y="680.33" width="14.84" height="14.13" fill="#ffff00"/>
<rect x="872.60" y="680.33" width="14.84" height="14.13" fill="#ff8000"/>
<rect x="917.12" y="680.33" width="14.84" height="14.13" fill="#00ffff"/>
<rect x="828.08" y="694.46" width="14.84" height="14.13" fill="#ff0000"/>
<rect x="842.92" y="694.46" width="14.84" height="14.13" fill="#80ff80"/>
<rect x="857.76" y="694.46" width="14.84" height="14.13" fill="#ff0000"/>
<rect x="872.60" y="694.46" width="14.84" height="14.13" fill="#ffff00"/>
<rect x="902.28" y="694.46" width="14.84" height="14.13" fill="#ffff00"/>
<rect x="1006.16" y="694.46" width="14.84" height="14.13" fill="#ff8000"/>
<rect x="753.88" y="708.59" width="14.84" height="14.13" fill="#0000ff"/>
<rect x="813.24" y="708.59" width="14.84" height="14.13" fill="#ff8000"/>
<rect x="828.08" y="708.59" width="14.84" height="14.13" fill="#ff0000"/>
<rect x="902.28" y="708.59" width="14.84" height="14.13" fill="#80ff80"/>
<rect x="872.60" y="722.72" width="14.84" height="14.13" fill="#ff8000"/>
<rect x="443.96" y="834.70" width="14.84" height="14.13" fill="#ff0000"/>
<rect x="473.64" y="834.70" width="14.84" height="14.13" fill="#80ff80"/>
<rect x="488.48" y="834.70" width="14.84" height="14.13" fill="#0000ff"/>
<rect x="503.32" y="834.70" width="14.84" height="14.13" fill="#00ffff"/>
<rect x="429.12" y="848.83" width="14.84" height="14.13" fill="#80ff80"/>
<rect x="443.96" y="848.83" width="14.84" height="14.13" fill="#80ff80"/>
<rect x="458.80" y="848.83" width="14.84" height="14.13" fill="#00ffff"/>
<rect x="473.64" y="848.83" width="14.84" height="14.13" fill="#80ff80"/>
<rect x="384.60" y="862.96" width="14.84" height="14.13" fill="#ffff00"/>
<rect x="399.44" y="862.96" width="14.84" height="14.13" fill="#00ffff"/>
<rect x="414.28" y="862.96" width="14.84" height="14.13" fill="#80ff80"/>
<rect x="429.12" y="862.96" width="14.84" height="14.13" fill="#80ff80"/>
<rect x="443.96" y="862.96" width="14.84" height="14.13" fill="#0000ff"/>
<rect x="458.80" y="862.96" width="14.84" height="14.13" fill="#0000ff"/>
<rect x="473.64" y="862.96" width="14.84" height="14.13" fill="#ff8000"/>
<rect x="384.60" y="877.09" width="14.84" height="14.13" fill="#0000ff"/>
<rect x="399.44" y="877.09" width="14.84" height="14.13" fill="#80ff80"/>
<rect x="414.28" y="877.09" width="14.84" height="14.13" fill="#00ffff"/>
<rect x="429.12" y="877.09" width="14.84" height="14.13" fill="#80ff80"/>
<rect x="443.96" y="877.09" width="14.84" height="14.13" fill="#0080ff"/>
<rect x="384.60" y="891.22" width="14.84" height="14.13" fill="#80ff80"/>
<rect x="399.44" y="891.22" width="14.84" height="14.13" fill="#ffff00"/>
<rect x="414.28" y="891.22" width="14.84" height="14.13" fill="#00ffff"/>
<rect x="429.12" y="891.22" width="14.84" height="14.13" fill="#ffff00"/>
<rect x="443.96" y="891.22" width="14.84" height="14.13" fill="#0000ff"/>
<rect x="369.76" y="905.35" width="14.84" height="14.13" fill="#0000ff"/>
<rect x="384.60" y="905.35" width="14.84" height="14.13" fill="#80ff80"/>
<rect x="399.44" y="905.35" width="14.84" height="14.13" fill="#00ffff"/>
<rect x="414.28" y="905.35" width="14.84" height="14.13" fill="#80ff80"/>
<rect x="429.12" y="905.35" width="14.84" height="14.13" fill="#80ff80"/>
<rect x="443.96" y="905.35" width="14.84" height="14.13" fill="#ffff00"/>
<rect x="458.80" y="905.35" width="14.84" height="14.13" fill="#0000ff"/>
<rect x="325.24" y="919.48" width="14.84" height="14.13" fill="#00ffff"/>
<rect x="340.08" y="919.48" width="14.84" height="14.13" fill="#ffff00"/>
<rect x="354.92" y="919.48" width="14.84" height="14.13" fill="#ffff00"/>
<rect x="369.76" y="919.48" width="14.84" height="14.13" fill="#ffff00"/>
<rect x="384.60" y="919.48" width="14.84" height="14.13" fill="#ffff00"/>
<rect x="399.44" y="919.48" width="14.84" height="14.13" fill="#00ffff"/>
<rect x="414.28" y="919.48" width="14.84" height="14.13" fill="#80ff80"/>
<rect x="429.12" y="919.48" width="14.84" height="14.13" fill="#00ffff"/>
<rect x="443.96" y="919.48" width="14.84" height="14.13" fill="#80ff80"/>
<rect x="458.80" y="919.48" width="14.84" height="14.13" fill="#ffff00"/>
<rect x="369.76" y="933.61" width="14.84" height="14.13" fill="#0000ff"/>
<rect x="384.60" y="933.61" width="14.84" height="14.13" fill="#00ffff"/>
<rect x="399.44" y="933.61" width="14.84" height="14.13" fill="#0080ff"/>
<rect x="414.28" y="933.61" width="14.84" height="14.13" fill="#ffff00"/>
<rect x="429.12" y="933.61" width="14.84" height="14.13" fill="#00ffff"/>
<rect x="443.96" y="933.61" width="14.84" height="14.13" fill="#00ffff"/>
<rect x="458.80" y="933.61" width="14.84" height="14.13" fill="#ffff00"/>
<rect x="473.64" y="933.61" width="14.84" height="14.13" fill="#ffff00"/>
<rect x="488.48" y="933.61" width="14.84" height="14.13" fill="#0000ff"/>
<rect x="369.76" y="947.74" width="14.84" height="14.13" fill="#ff8000"/>
<rect x="384.60" y="947.74" width="14.84" height="14.13" fill="#ffff00"/>
<rect x="399.44" y="947.74" width="14.84" height="14.13" fill="#80ff80"/>
<rect x="414.28" y="947.74" width="14.84" height="14.13" fill="#0080ff"/>
<rect x="429.12" y="947.74" width="14.84" height="14.13" fill="#ffff00"/>
<rect x="443.96" y="947.74" width="14.84" height="14.13" fill="#80ff80"/>
<rect x="458.80" y="947.74" width="14.84" height="14.13" fill="#0080ff"/>
<rect x="384.60" y="961.87" width="14.84" height="14.13" fill="#ffff00"/>
<rect x="399.44" y="961.87" width="14.84" height="14.13" fill="#ffff00"/>
<rect x="414.28" y="961.87" width="14.84" height="14.13" fill="#00ffff"/>
<rect x="429.12" y="961.87" width="14.84" height="14.13" fill="#80ff80"/>
<rect x="443.96" y="961.87" width="14.84" height="14.13" fill="#80ff80"/>
<rect x="458.80" y="961.87" width="14.84" height="14.13" fill="#ff0000"/>
<rect x="354.92" y="976.00" width="14.84" height="14.13" fill="#0080ff"/>
<rect x="369.76" y="976.00" width="14.84" height="14.13" fill="#0000ff"/>
<rect x="384.60" y="976.00" width="14.84" height="14.13" fill="#0000ff"/>
<rect x="399.44" y="976.00" width="14.84" height="14.13" fill="#80ff80"/>
<rect x="414.28" y="976.00" width="14.84" height="14.13" fill="#80ff80"/>
<rect x="429.12" y="976.00" width="14.84" height="14.13" fill="#80ff80"/>
<rect x="443.96" y="976.00" width="14.84" height="14.13" fill="#80ff80"/>
<rect x="340.08" y="990.13" width="14.84" height="14.13" fill="#0000ff"/>
<rect x="354.92" y="990.13" width="14.84" height="14.13" fill="#0080ff"/>
<rect x="369.76" y="990.13" width="14.84" height="14.13" fill="#ff8000"/>
<rect x="384.60" y="990.13" width="14.84" height="14.13" fill="#80ff80"/>
<rect x="399.44" y="990.13" width="14.84" height="14.13" fill="#00ffff"/>
<rect x="414.28" y="990.13" width="14.84" height="14.13" fill="#80ff80"/>
<rect x="429.12" y="990.13" width="14.84" height="14.13" fill="#80ff80"/>
<rect x="443.96" y="990.13" width="14.84" height="14.13" fill="#00ffff"/>
<rect x="399.44" y="1004.26" width="14.84" height="14.13" fill="#00ffff"/>
<rect x="414.28" y="1004.26" width="14.84" height="14.13" fill="#80ff80"/>
<rect x="429.12" y="1004.26" width="14.84" height="14.13" fill="#00ffff"/>
<rect x="443.96" y="1004.26" width="14.84" height="14.13" fill="#00ffff"/>
<rect x="384.60" y="1018.39" width="14.84" height="14.13" fill="#ff0000"/>
<rect x="414.28" y="1018.39" width="14.84" height="14.13" fill="#80ff80"/>
<rect x="429.12" y="1018.39" width="14.84" height="14.13" fill="#80ff80"/>
<rect x="443.96" y="1018.39" width="14.84" height="14.13" fill="#80ff80"/>
<rect x="458.80" y="1018.39" width="14.84" height="14.13" fill="#80ff80"/>
<rect x="473.64" y="1018.39" width="14.84" height="14.13" fill="#ff0000"/>
<rect x="354.92" y="1032.52" width="14.84" height="14.13" fill="#80ff80"/>
<rect x="369.76" y="1032.52" width="14.84" height="14.13" fill="#ffff00"/>
<rect x="384.60" y="1032.52" width="14.84" height="14.13" fill="#ffff00"/>
<rect x="399.44" y="1032.52" width="14.84" height="14.13" fill="#ffff00"/>
<rect x="414.28" y="1032.52" width="14.84" height="14.13" fill="#00ffff"/>
<rect x="429.12" y="1032.52" width="14.84" height="14.13" fill="#80ff80"/>
<rect x="443.96" y="1032.52" width="14.84" height="14.13" fill="#80ff80"/>
<rect x="458.80" y="1032.52" width="14.84" height="14.13" fill="#00ffff"/>
<rect x="473.64" y="1032.52" width="14.84" height="14.13" fill="#80ff80"/>
<rect x="488.48" y="1032.52" width="14.84" height="14.13" fill="#0000ff"/>
<rect x="280.72" y="1046.65" width="14.84" height="14.13" fill="#ffff00"/>
<rect x="414.28" y="1046.65" width="14.84" height="14.13" fill="#0000ff"/>
<rect x="369.76" y="1060.78" width="14.84" height="14.13" fill="#ff0000"/>
<rect x="384.60" y="1060.78" width="14.84" height="14.13" fill="#ff8000"/>
<rect x="369.76" y="1074.91" width="14.84" height="14.13" fill="#80ff80"/>
<rect x="414.28" y="1074.91" width="14.84" height="14.13" fill="#ffff00"/>
<rect x="533.00" y="1074.91" width="14.84" height="14.13" fill="#00ffff"/>
<rect x="931.96" y="834.70" width="14.84" height="14.13" fill="#ffff00"/>
<rect x="946.80" y="834.70" width="14.84" height="14.13" fill="#ffff00"/>
<rect x="961.64" y="834.70" width="14.84" height="14.13" fill="#80ff80"/>
<rect x="991.32" y="834.70" width="14.84" height="14.13" fill="#0080ff"/>
<rect x="931.96" y="848.83" width="14.84" height="14.13" fill="#80ff80"/>
<rect x="946.80" y="848.83" width="14.84" height="14.13" fill="#ffff00"/>
<rect x="961.64" y="848.83" width="14.84" height="14.13" fill="#80ff80"/>
<rect x="976.48" y="848.83" width="14.84" height="14.13" fill="#80ff80"/>
<rect x="872.60" y="862.96" width="14.84" height="14.13" fill="#0000ff"/>
<rect x="887.44" y="862.96" width="14.84" height="14.13" fill="#00ffff"/>
<rect x="902.28" y="862.96" width="14.84" height="14.13" fill="#ffff00"/>
<rect x="917.12" y="862.96" width="14.84" height="14.13" fill="#00ffff"/>
<rect x="931.96" y="862.96" width="14.84" height="14.13" fill="#80ff80"/>
<rect x="946.80" y="862.96" width="14.84" height="14.13" fill="#00ffff"/>
<rect x="961.64" y="862.96" width="14.84" height="14.13" fill="#00ffff"/>
<rect x="976.48" y="862.96" width="14.84" height="14.13" fill="#ffff00"/>
<rect x="872.60" y="877.09" width="14.84" height="14.13" fill="#80ff80"/>
<rect x="887.44" y="877.09" width="14.84" height="14.13" fill="#ffff00"/>
<rect x="902.28" y="877.09" width="14.84" height="14.13" fill="#80ff80"/>
<rect x="917.12" y="877.09" width="14.84" height="14.13" fill="#00ffff"/>
<rect x="931.96" y="877.09" width="14.84" height="14.13" fill="#80ff80"/>
<rect x="946.80" y="877.09" width="14.84" height="14.13" fill="#0080ff"/>
<rect x="872.60" y="891.22" width="14.84" height="14.13" fill="#ffff00"/>
<rect x="887.44" y="891.22" width="14.84" height="14.13" fill="#80ff80"/>
<rect x="902.28" y="891.22" width="14.84" height="14.13" fill="#80ff80"/>
<rect x="917.12" y="891.22" width="14.84" height="14.13" fill="#80ff80"/>
<rect x="931.96" y="891.22" width="14.84" height="14.13" fill="#00ffff"/>
<rect x="857.76" y="905.35" width="14.84" height="14.13" fill="#80ff80"/>
<rect x="872.60" y="905.35" width="14.84" height="14.13" fill="#ffff00"/>
<rect x="887.44" y="905.35" width="14.84" height="14.13" fill="#80ff80"/>
<rect x="902.28" y="905.35" width="14.84" height="14.13" fill="#80ff80"/>
<rect x="917.12" y="905.35" width="14.84" height="14.13" fill="#80ff80"/>
<rect x="931.96" y="905.35" width="14.84" height="14.13" fill="#ffff00"/>
<rect x="946.80" y="905.35" width="14.84" height="14.13" fill="#00ffff"/>
<rect x="828.08" y="919.48" width="14.84" height="14.13" fill="#00ffff"/>
<rect x="842.92" y="919.48" width="14.84" height="14.13" fill="#ffff00"/>
<rect x="857.76" y="919.48" width="14.84" height="14.13" fill="#0080ff"/>
<rect x="872.60" y="919.48" width="14.84" height="14.13" fill="#ffff00"/>
<rect x="887.44" y="919.48" width="14.84" height="14.13" fill="#80ff80"/>
<rect x="902.28" y="919.48" width="14.84" height="14.13" fill="#00ffff"/>
<rect x="917.12" y="919.48" width="14.84" height="14.13" fill="#ffff00"/>
<rect x="931.96" y="919.48" width="14.84" height="14.13" fill="#ffff00"/>
<rect x="946.80" y="919.48" width="14.84" height="14.13" fill="#80ff80"/>
<rect x="813.24" y="933.61" width="14.84" height="14.13" fill="#800000"/>
<rect x="828.08" y="933.61" width="14.84" height="14.13" fill="#80ff80"/>
<rect x="842.92" y="933.61" width="14.84" height="14.13" fill="#0080ff"/>
<rect x="857.76" y="933.61" width="14.84" height="14.13" fill="#ffff00"/>
<rect x="872.60" y="933.61" width="14.84" height="14.13" fill="#ffff00"/>
<rect x="887.44" y="933.61" width="14.84" height="14.13" fill="#00ffff"/>
<rect x="902.28" y="933.61" width="14.84" height="14.13" fill="#80ff80"/>
<rect x="917.12" y="933.61" width="14.84" height="14.13" fill="#ffff00"/>
<rect x="931.96" y="933.61" width="14.84" height="14.13" fill="#80ff80"/>
<rect x="946.80" y="933.61" width="14.84" height="14.13" fill="#ffff00"/>
<rect x="961.64" y="933.61" width="14.84" height="14.13" fill="#ffff00"/>
<rect x="857.76" y="947.74" width="14.84" height="14.13" fill="#00ffff"/>
<rect x="872.60" y="947.74" width="14.84" height="14.13" fill="#ffff00"/>
<rect x="887.44" y="947.74" width="14.84" height="14.13" fill="#80ff80"/>
<rect x="902.28" y="947.74" width="14.84" height="14.13" fill="#00ffff"/>
<rect x="917.12" y="947.74" width="14.84" height="14.13" fill="#80ff80"/>
<rect x="931.96" y="947.74" width="14.84" height="14.13" fill="#80ff80"/>
<rect x="946.80" y="947.74" width="14.84" height="14.13" fill="#ffff00"/>
<rect x="857.76" y="961.87" width="14.84" height="14.13" fill="#0000ff"/>
<rect x="872.60" y="961.87" width="14.84" height="14.13" fill="#ffff00"/>
<rect x="887.44" y="961.87" width="14.84" height="14.13" fill="#80ff80"/>
<rect x="902.28" y="961.87" width="14.84" height="14.13" fill="#ffff00"/>
<rect x="917.12" y="961.87" width="14.84" height="14.13" fill="#80ff80"/>
<rect x="931.96" y="961.87" width="14.84" height="14.13" fill="#00ffff"/>
<rect x="946.80" y="961.87" width="14.84" height="14.13" fill="#0000ff"/>
<rect x="842.92" y="976.00" width="14.84" height="14.13" fill="#ff8000"/>
<rect x="857.76" y="976.00" width="14.84" height="14.13" fill="#80ff80"/>
<rect x="872.60" y="976.00" width="14.84" height="14.13" fill="#80ff80"/>
<rect x="887.44" y="976.00" width="14.84" height="14.13" fill="#ffff00"/>
<rect x="902.28" y="976.00" width="14.84" height="14.13" fill="#ffff00"/>
<rect x="917.12" y="976.00" width="14.84" height="14.13" fill="#ffff00"/>
<rect x="931.96" y="976.00" width="14.84" height="14.13" fill="#00ffff"/>
<rect x="828.08" y="990.13" width="14.84" height="14.13" fill="#0000ff"/>
<rect x="842.92" y="990.13" width="14.84" height="14.13" fill="#ffff00"/>
<rect x="857.76" y="990.13" width="14.84" height="14.13" fill="#00ffff"/>
<rect x="872.60" y="990.13" width="14.84" height="14.13" fill="#ffff00"/>
<rect x="887.44" y="990.13" width="14.84" height="14.13" fill="#80ff80"/>
<rect x="902.28" y="990.13" width="14.84" height="14.13" fill="#ffff00"/>
<rect x="917.12" y="990.13" width="14.84" height="14.13" fill="#80ff80"/>
<rect x="931.96" y="990.13" width="14.84" height="14.13" fill="#ff8000"/>
<rect x="872.60" y="1004.26" width="14.84" height="14.13" fill="#0080ff"/>
<rect x="887.44" y="1004.26" width="14.84" height="14.13" fill="#80ff80"/>
<rect x="902.28" y="1004.26" width="14.84" height="14.13" fill="#80ff80"/>
<rect x="917.12" y="1004.26" width="14.84" height="14.13" fill="#ffff00"/>
<rect x="931.96" y="1004.26" width="14.84" height="14.13" fill="#ffff00"/>
<rect x="857.76" y="1018.39" width="14.84" height="14.13" fill="#80ff80"/>
<rect x="887.44" y="1018.39" width="14.84" height="14.13" fill="#00ffff"/>
<rect x="902.28" y="1018.39" width="14.84" height="14.13" fill="#00ffff"/>
<rect x="917.12" y="1018.39" width="14.84" height="14.13" fill="#80ff80"/>
<rect x="931.96" y="1018.39" width="14.84" height="14.13" fill="#80ff80"/>
<rect x="946.80" y="1018.39" width="14.84" height="14.13" fill="#ffff00"/>
<rect x="842.92" y="1032.52" width="14.84" height="14.13" fill="#800000"/>
<rect x="857.76" y="1032.52" width="14.84" height="14.13" fill="#00ffff"/>
<rect x="872.60" y="1032.52" width="14.84" height="14.13" fill="#ff8000"/>
<rect x="887.44" y="1032.52" width="14.84" height="14.13" fill="#80ff80"/>
<rect x="902.28" y="1032.52" width="14.84" height="14.13" fill="#ffff00"/>
<rect x="917.12" y="1032.52" width="14.84" height="14.13" fill="#00ffff"/>
<rect x="931.96" y="1032.52" width="14.84" height="14.13" fill="#80ff80"/>
<rect x="946.80" y="1032.52" width="14.84" height="14.13" fill="#80ff80"/>
<rect x="961.64" y="1032.52" width="14.84" height="14.13" fill="#80ff80"/>
<rect x="739.04" y="1046.65" width="14.84" height="14.13" fill="#0000ff"/>
<rect x="828.08" y="1046.65" width="14.84" height="14.13" fill="#ffff00"/>
<rect x="902.28" y="1046.65" width="14.84" height="14.13" fill="#80ff80"/>
<rect x="709.36" y="1060.78" width="14.84" height="14.13" fill="#0080ff"/>
<rect x="857.76" y="1060.78" width="14.84" height="14.13" fill="#ffff00"/>
<rect x="872.60" y="1060.78" width="14.84" height="14.13" fill="#80ff80"/>
<rect x="931.96" y="1060.78" width="14.84" height="14.13" fill="#00ffff"/>
<rect x="946.80" y="1060.78" width="14.84" height="14.13" fill="#ffff00"/>
<rect x="828.08" y="1074.91" width="14.84" height="14.13" fill="#800000"/>
<rect x="842.92" y="1074.91" width="14.84" height="14.13" fill="#00ffff"/>
<rect x="857.76" y="1074.91" width="14.84" height="14.13" fill="#ff8000"/>
<rect x="887.44" y="1074.91" width="14.84" height="14.13" fill="#80ff80"/>
<rect x="902.28" y="1074.91" width="14.84" height="14.13" fill="#80ff80"/>
<rect x="768.72" y="1089.04" width="14.84" height="14.13" fill="#ff8000"/>
<rect x="813.24" y="1089.04" width="14.84" height="14.13" fill="#ffff00"/>
<rect x="828.08" y="1089.04" width="14.84" height="14.13" fill="#ff8000"/>
<rect x="902.28" y="1089.04" width="14.84" height="14.13" fill="#0080ff"/>
<rect x="946.80" y="1089.04" width="14.84" height="14.13" fill="#00ffff"/>
<rect x="429.12" y="1384.71" width="14.84" height="14.13" fill="#0000ff"/>
<rect x="384.60" y="1398.84" width="14.84" height="14.13" fill="#80ff80"/>
<rect x="414.28" y="1398.84" width="14.84" height="14.13" fill="#00ffff"/>
<rect x="399.44" y="1412.97" width="14.84" height="14.13" fill="#00ffff"/>
<rect x="473.64" y="1412.97" width="14.84" height="14.13" fill="#0000ff"/>
<rect x="325.24" y="1427.10" width="14.84" height="14.13" fill="#0000ff"/>
<rect x="399.44" y="1427.10" width="14.84" height="14.13" fill="#800000"/>
<rect x="265.88" y="1441.23" width="14.84" height="14.13" fill="#ff0000"/>
<rect x="369.76" y="1441.23" width="14.84" height="14.13" fill="#ffff00"/>
<rect x="384.60" y="1441.23" width="14.84" height="14.13" fill="#80ff80"/>
<rect x="340.08" y="1455.36" width="14.84" height="14.13" fill="#ffff00"/>
<rect x="369.76" y="1455.36" width="14.84" height="14.13" fill="#00ffff"/>
<rect x="399.44" y="1455.36" width="14.84" height="14.13" fill="#80ff80"/>
<rect x="414.28" y="1455.36" width="14.84" height="14.13" fill="#80ff80"/>
<rect x="518.16" y="1455.36" width="14.84" height="14.13" fill="#0000ff"/>
<rect x="325.24" y="1469.49" width="14.84" height="14.13" fill="#ffff00"/>
<rect x="414.28" y="1469.49" width="14.84" height="14.13" fill="#ff8000"/>
<rect x="473.64" y="1469.49" width="14.84" height="14.13" fill="#ffff00"/>
<rect x="310.40" y="1483.62" width="14.84" height="14.13" fill="#ffff00"/>
<rect x="384.60" y="1483.62" width="14.84" height="14.13" fill="#ff8000"/>
<rect x="931.96" y="1215.15" width="14.84" height="14.13" fill="#ffff00"/>
<rect x="946.80" y="1215.15" width="14.84" height="14.13" fill="#0080ff"/>
<rect x="961.64" y="1215.15" width="14.84" height="14.13" fill="#00ffff"/>
<rect x="976.48" y="1215.15" width="14.84" height="14.13" fill="#0000ff"/>
<rect x="991.32" y="1215.15" width="14.84" height="14.13" fill="#0080ff"/>
<rect x="1006.16" y="1215.15" width="14.84" height="14.13" fill="#00ffff"/>
<rect x="917.12" y="1229.28" width="14.84" height="14.13" fill="#00ffff"/>
<rect x="931.96" y="1229.28" width="14.84" height="14.13" fill="#00ffff"/>
<rect x="946.80" y="1229.28" width="14.84" height="14.13" fill="#80ff80"/>
<rect x="961.64" y="1229.28" width="14.84" height="14.13" fill="#80ff80"/>
<rect x="976.48" y="1229.28" width="14.84" height="14.13" fill="#00ffff"/>
<rect x="991.32" y="1229.28" width="14.84" height="14.13" fill="#ff8000"/>
<rect x="1006.16" y="1229.28" width="14.84" height="14.13" fill="#ffff00"/>
<rect x="857.76" y="1243.41" width="14.84" height="14.13" fill="#ff8000"/>
<rect x="872.60" y="1243.41" width="14.84" height="14.13" fill="#0080ff"/>
<rect x="887.44" y="1243.41" width="14.84" height="14.13" fill="#00ffff"/>
<rect x="902.28" y="1243.41" width="14.84" height="14.13" fill="#80ff80"/>
<rect x="917.12" y="1243.41" width="14.84" height="14.13" fill="#00ffff"/>
<rect x="931.96" y="1243.41" width="14.84" height="14.13" fill="#80ff80"/>
<rect x="946.80" y="1243.41" width="14.84" height="14.13" fill="#ffff00"/>
<rect x="961.64" y="1243.41" width="14.84" height="14.13" fill="#00ffff"/>
<rect x="976.48" y="1243.41" width="14.84" height="14.13" fill="#80ff80"/>
<rect x="857.76" y="1257.54" width="14.84" height="14.13" fill="#80ff80"/>
<rect x="872.60" y="1257.54" width="14.84" height="14.13" fill="#00ffff"/>
<rect x="887.44" y="1257.54" width="14.84" height="14.13" fill="#80ff80"/>
<rect x="902.28" y="1257.54" width="14.84" height="14.13" fill="#80ff80"/>
<rect x="917.12" y="1257.54" width="14.84" height="14.13" fill="#80ff80"/>
<rect x="931.96" y="1257.54" width="14.84" height="14.13" fill="#80ff80"/>
<rect x="946.80" y="1257.54" width="14.84" height="14.13" fill="#0080ff"/>
<rect x="857.76" y="1271.67" width="14.84" height="14.13" fill="#80ff80"/>
<rect x="872.60" y="1271.67" width="14.84" height="14.13" fill="#80ff80"/>
<rect x="887.44" y="1271.67" width="14.84" height="14.13" fill="#80ff80"/>
<rect x="902.28" y="1271.67" width="14.84" height="14.13" fill="#00ffff"/>
<rect x="917.12" y="1271.67" width="14.84" height="14.13" fill="#80ff80"/>
<rect x="931.96" y="1271.67" width="14.84" height="14.13" fill="#0000ff"/>
<rect x="842.92" y="1285.80" width="14.84" height="14.13" fill="#80ff80"/>
<rect x="857.76" y="1285.80" width="14.84" height="14.13" fill="#80ff80"/>
<rect x="872.60" y="1285.80" width="14.84" height="14.13" fill="#80ff80"/>
<rect x="887.44" y="1285.80" width="14.84" height="14.13" fill="#80ff80"/>
<rect x="902.28" y="1285.80" width="14.84" height="14.13" fill="#80ff80"/>
<rect x="917.12" y="1285.80" width="14.84" height="14.13" fill="#80ff80"/>
<rect x="931.96" y="1285.80" width="14.84" height="14.13" fill="#ffff00"/>
<rect x="946.80" y="1285.80" width="14.84" height="14.13" fill="#0000ff"/>
<rect x="798.40" y="1299.93" width="14.84" height="14.13" fill="#80ff80"/>
<rect x="813.24" y="1299.93" width="14.84" height="14.13" fill="#00ffff"/>
<rect x="828.08" y="1299.93" width="14.84" height="14.13" fill="#80ff80"/>
<rect x="842.92" y="1299.93" width="14.84" height="14.13" fill="#ffff00"/>
<rect x="857.76" y="1299.93" width="14.84" height="14.13" fill="#80ff80"/>
<rect x="872.60" y="1299.93" width="14.84" height="14.13" fill="#80ff80"/>
<rect x="887.44" y="1299.93" width="14.84" height="14.13" fill="#00ffff"/>
<rect x="902.28" y="1299.93" width="14.84" height="14.13" fill="#80ff80"/>
<rect x="917.12" y="1299.93" width="14.84" height="14.13" fill="#80ff80"/>
<rect x="931.96" y="1299.93" width="14.84" height="14.13" fill="#ffff00"/>
<rect x="946.80" y="1299.93" width="14.84" height="14.13" fill="#80ff80"/>
<rect x="961.64" y="1299.93" width="14.84" height="14.13" fill="#00ffff"/>
<rect x="813.24" y="1314.06" width="14.84" height="14.13" fill="#0080ff"/>
<rect x="828.08" y="1314.06" width="14.84" height="14.13" fill="#80ff80"/>
<rect x="842.92" y="1314.06" width="14.84" height="14.13" fill="#00ffff"/>
<rect x="857.76" y="1314.06" width="14.84" height="14.13" fill="#00ffff"/>
<rect x="872.60" y="1314.06" width="14.84" height="14.13" fill="#80ff80"/>
<rect x="887.44" y="1314.06" width="14.84" height="14.13" fill="#00ffff"/>
<rect x="902.28" y="1314.06" width="14.84" height="14.13" fill="#80ff80"/>
<rect x="917.12" y="1314.06" width="14.84" height="14.13" fill="#80ff80"/>
<rect x="931.96" y="1314.06" width="14.84" height="14.13" fill="#80ff80"/>
<rect x="946.80" y="1314.06" width="14.84" height="14.13" fill="#80ff80"/>
<rect x="961.64" y="1314.06" width="14.84" height="14.13" fill="#80ff80"/>
<rect x="976.48" y="1314.06" width="14.84" height="14.13" fill="#0000ff"/>
<rect x="842.92" y="1328.19" width="14.84" height="14.13" fill="#ffff00"/>
<rect x="857.76" y="1328.19" width="14.84" height="14.13" fill="#80ff80"/>
<rect x="872.60" y="1328.19" width="14.84" height="14.13" fill="#80ff80"/>
<rect x="887.44" y="1328.19" width="14.84" height="14.13" fill="#80ff80"/>
<rect x="902.28" y="1328.19" width="14.84" height="14.13" fill="#80ff80"/>
<rect x="917.12" y="1328.19" width="14.84" height="14.13" fill="#80ff80"/>
<rect x="931.96" y="1328.19" width="14.84" height="14.13" fill="#80ff80"/>
<rect x="946.80" y="1328.19" width="14.84" height="14.13" fill="#80ff80"/>
<rect x="857.76" y="1342.32" width="14.84" height="14.13" fill="#80ff80"/>
<rect x="872.60" y="1342.32" width="14.84" height="14.13" fill="#80ff80"/>
<rect x="887.44" y="1342.32" width="14.84" height="14.13" fill="#80ff80"/>
<rect x="902.28" y="1342.32" width="14.84" height="14.13" fill="#80ff80"/>
<rect x="917.12" y="1342.32" width="14.84" height="14.13" fill="#80ff80"/>
<rect x="931.96" y="1342.32" width="14.84" height="14.13" fill="#80ff80"/>
<rect x="946.80" y="1342.32" width="14.84" height="14.13" fill="#ffff00"/>
<rect x="828.08" y="1356.45" width="14.84" height="14.13" fill="#80ff80"/>
<rect x="842.92" y="1356.45" width="14.84" height="14.13" fill="#80ff80"/>
<rect x="857.76" y="1356.45" width="14.84" height="14.13" fill="#00ffff"/>
<rect x="872.60" y="1356.45" width="14.84" height="14.13" fill="#80ff80"/>
<rect x="887.44" y="1356.45" width="14.84" height="14.13" fill="#80ff80"/>
<rect x="902.28" y="1356.45" width="14.84" height="14.13" fill="#ffff00"/>
<rect x="917.12" y="1356.45" width="14.84" height="14.13" fill="#ffff00"/>
<rect x="931.96" y="1356.45" width="14.84" height="14.13" fill="#80ff80"/>
<rect x="828.08" y="1370.58" width="14.84" height="14.13" fill="#0000ff"/>
<rect x="842.92" y="1370.58" width="14.84" height="14.13" fill="#00ffff"/>
<rect x="857.76" y="1370.58" width="14.84" height="14.13" fill="#80ff80"/>
<rect x="872.60" y="1370.58" width="14.84" height="14.13" fill="#80ff80"/>
<rect x="887.44" y="1370.58" width="14.84" height="14.13" fill="#00ffff"/>
<rect x="902.28" y="1370.58" width="14.84" height="14.13" fill="#80ff80"/>
<rect x="917.12" y="1370.58" width="14.84" height="14.13" fill="#80ff80"/>
<rect x="931.96" y="1370.58" width="14.84" height="14.13" fill="#80ff80"/>
<rect x="842.92" y="1384.71" width="14.84" height="14.13" fill="#00ffff"/>
<rect x="857.76" y="1384.71" width="14.84" height="14.13" fill="#0080ff"/>
<rect x="872.60" y="1384.71" width="14.84" height="14.13" fill="#00ffff"/>
<rect x="887.44" y="1384.71" width="14.84" height="14.13" fill="#00ffff"/>
<rect x="902.28" y="1384.71" width="14.84" height="14.13" fill="#80ff80"/>
<rect x="917.12" y="1384.71" width="14.84" height="14.13" fill="#80ff80"/>
<rect x="931.96" y="1384.71" width="14.84" height="14.13" fill="#00ffff"/>
<rect x="842.92" y="1398.84" width="14.84" height="14.13" fill="#00ffff"/>
<rect x="857.76" y="1398.84" width="14.84" height="14.13" fill="#0080ff"/>
<rect x="872.60" y="1398.84" width="14.84" height="14.13" fill="#80ff80"/>
<rect x="887.44" y="1398.84" width="14.84" height="14.13" fill="#80ff80"/>
<rect x="902.28" y="1398.84" width="14.84" height="14.13" fill="#80ff80"/>
<rect x="917.12" y="1398.84" width="14.84" height="14.13" fill="#80ff80"/>
<rect x="931.96" y="1398.84" width="14.84" height="14.13" fill="#80ff80"/>
<rect x="946.80" y="1398.84" width="14.84" height="14.13" fill="#80ff80"/>
<rect x="961.64" y="1398.84" width="14.84" height="14.13" fill="#ff8000"/>
<rect x="753.88" y="1412.97" width="14.84" height="14.13" fill="#0000ff"/>
<rect x="783.56" y="1412.97" width="14.84" height="14.13" fill="#0080ff"/>
<rect x="798.40" y="1412.97" width="14.84" height="14.13" fill="#0000ff"/>
<rect x="813.24" y="1412.97" width="14.84" height="14.13" fill="#00ffff"/>
<rect x="828.08" y="1412.97" width="14.84" height="14.13" fill="#00ffff"/>
<rect x="842.92" y="1412.97" width="14.84" height="14.13" fill="#ffff00"/>
<rect x="857.76" y="1412.97" width="14.84" height="14.13" fill="#00ffff"/>
<rect x="872.60" y="1412.97" width="14.84" height="14.13" fill="#00ffff"/>
<rect x="887.44" y="1412.97" width="14.84" height="14.13" fill="#00ffff"/>
<rect x="902.28" y="1412.97" width="14.84" height="14.13" fill="#80ff80"/>
<rect x="917.12" y="1412.97" width="14.84" height="14.13" fill="#00ffff"/>
<rect x="931.96" y="1412.97" width="14.84" height="14.13" fill="#80ff80"/>
<rect x="946.80" y="1412.97" width="14.84" height="14.13" fill="#00ffff"/>
<rect x="961.64" y="1412.97" width="14.84" height="14.13" fill="#0080ff"/>
<rect x="976.48" y="1412.97" width="14.84" height="14.13" fill="#0000ff"/>
<rect x="650.00" y="1427.10" width="14.84" height="14.13" fill="#ff8000"/>
<rect x="664.84" y="1427.10" width="14.84" height="14.13" fill="#ffff00"/>
<rect x="694.52" y="1427.10" width="14.84" height="14.13" fill="#0000ff"/>
<rect x="709.36" y="1427.10" width="14.84" height="14.13" fill="#0000ff"/>
<rect x="724.20" y="1427.10" width="14.84" height="14.13" fill="#00ffff"/>
<rect x="739.04" y="1427.10" width="14.84" height="14.13" fill="#0000ff"/>
<rect x="768.72" y="1427.10" width="14.84" height="14.13" fill="#80ff80"/>
<rect x="783.56" y="1427.10" width="14.84" height="14.13" fill="#ff8000"/>
<rect x="813.24" y="1427.10" width="14.84" height="14.13" fill="#00ffff"/>
<rect x="828.08" y="1427.10" width="14.84" height="14.13" fill="#ff8000"/>
<rect x="857.76" y="1427.10" width="14.84" height="14.13" fill="#0000ff"/>
<rect x="872.60" y="1427.10" width="14.84" height="14.13" fill="#ffff00"/>
<rect x="887.44" y="1427.10" width="14.84" height="14.13" fill="#00ffff"/>
<rect x="902.28" y="1427.10" width="14.84" height="14.13" fill="#80ff80"/>
<rect x="664.84" y="1441.23" width="14.84" height="14.13" fill="#80ff80"/>
<rect x="679.68" y="1441.23" width="14.84" height="14.13" fill="#0000ff"/>
<rect x="709.36" y="1441.23" width="14.84" height="14.13" fill="#00ffff"/>
<rect x="753.88" y="1441.23" width="14.84" height="14.13" fill="#ff0000"/>
<rect x="798.40" y="1441.23" width="14.84" height="14.13" fill="#800000"/>
<rect x="842.92" y="1441.23" width="14.84" height="14.13" fill="#00ffff"/>
<rect x="857.76" y="1441.23" width="14.84" height="14.13" fill="#ffff00"/>
<rect x="872.60" y="1441.23" width="14.84" height="14.13" fill="#ffff00"/>
<rect x="902.28" y="1441.23" width="14.84" height="14.13" fill="#ff0000"/>
<rect x="917.12" y="1441.23" width="14.84" height="14.13" fill="#00ffff"/>
<rect x="931.96" y="1441.23" width="14.84" height="14.13" fill="#00ffff"/>
<rect x="946.80" y="1441.23" width="14.84" height="14.13" fill="#ffff00"/>
<rect x="813.24" y="1455.36" width="14.84" height="14.13" fill="#80ff80"/>
<rect x="828.08" y="1455.36" width="14.84" height="14.13" fill="#ff0000"/>
<rect x="842.92" y="1455.36" width="14.84" height="14.13" fill="#80ff80"/>
<rect x="857.76" y="1455.36" width="14.84" height="14.13" fill="#ffff00"/>
<rect x="872.60" y="1455.36" width="14.84" height="14.13" fill="#ffff00"/>
<rect x="887.44" y="1455.36" width="14.84" height="14.13" fill="#80ff80"/>
<rect x="902.28" y="1455.36" width="14.84" height="14.13" fill="#80ff80"/>
<rect x="1006.16" y="1455.36" width="14.84" height="14.13" fill="#80ff80"/>
<rect x="1021.00" y="1455.36" width="14.84" height="14.13" fill="#00ffff"/>
<rect x="753.88" y="1469.49" width="14.84" height="14.13" fill="#00ffff"/>
<rect x="768.72" y="1469.49" width="14.84" height="14.13" fill="#ff8000"/>
<rect x="798.40" y="1469.49" width="14.84" height="14.13" fill="#ffff00"/>
<rect x="813.24" y="1469.49" width="14.84" height="14.13" fill="#ffff00"/>
<rect x="828.08" y="1469.49" width="14.84" height="14.13" fill="#ff0000"/>
<rect x="902.28" y="1469.49" width="14.84" height="14.13" fill="#80ff80"/>
<rect x="946.80" y="1469.49" width="14.84" height="14.13" fill="#00ffff"/>
<rect x="961.64" y="1469.49" width="14.84" height="14.13" fill="#80ff80"/>
<rect x="768.72" y="1483.62" width="14.84" height="14.13" fill="#0000ff"/>
<rect x="798.40" y="1483.62" width="14.84" height="14.13" fill="#ff8000"/>
<rect x="872.60" y="1483.62" width="14.84" height="14.13" fill="#ffff00"/>
<rect x="887.44" y="1483.62" width="14.84" height="14.13" fill="#0080ff"/>
<rect x="931.96" y="1497.75" width="14.84" height="14.13" fill="#ffff00"/></g>
<g><rect x="140" y="1649" width="122" height="21" fill="#0000ff"/><rect x="262" y="1649" width="122" height="21" fill="#0080ff"/><rect x="384" y="1649" width="122" height="21" fill="#00ffff"/><rect x="506" y="1649" width="122" height="21" fill="#80ff80"/><rect x="628" y="1649" width="122" height="21" fill="#ffff00"/><rect x="750" y="1649" width="122" height="21" fill="#ff8000"/><rect x="872" y="1649" width="122" height="21" fill="#ff0000"/><rect x="994" y="1649" width="122" height="21" fill="#800000"/><rect x="139" y="1647" width="979" height="2" fill="#000"/><rect x="139" y="1670" width="979" height="2" fill="#000"/><rect x="139" y="1647" width="3" height="25" fill="#000"/><rect x="1116" y="1647" width="2" height="25" fill="#000"/><rect x="383" y="1649" width="2" height="8" fill="#000"/><rect x="383" y="1661" width="2" height="9" fill="#000"/><rect x="627" y="1649" width="2" height="8" fill="#000"/><rect x="627" y="1661" width="2" height="9" fill="#000"/><rect x="871" y="1649" width="2" height="8" fill="#000"/><rect x="871" y="1661" width="2" height="9" fill="#000"/></g>
<g><rect x="135" y="3" width="983" height="2" fill="#000"/>
<rect x="135" y="384" width="983" height="2" fill="#000"/>
<rect x="135" y="764" width="983" height="2" fill="#000"/>
<rect x="135" y="1145" width="983" height="2" fill="#000"/>
<rect x="135" y="1525" width="983" height="2" fill="#000"/>
<rect x="140" y="3" width="2" height="1524" fill="#000"/>
<rect x="628" y="3" width="2" height="1524" fill="#000"/>
<rect x="1116" y="3" width="2" height="1524" fill="#000"/>
<rect x="135" y="73" width="5" height="2" fill="#000"/>
<rect x="623" y="73" width="5" height="2" fill="#000"/>
<rect x="135" y="144" width="5" height="2" fill="#000"/>
<rect x="623" y="144" width="5" height="2" fill="#000"/>
<rect x="135" y="214" width="5" height="2" fill="#000"/>
<rect x="623" y="214" width="5" height="2" fill="#000"/>
<rect x="135" y="285" width="5" height="2" fill="#000"/>
<rect x="623" y="285" width="5" height="2" fill="#000"/>
<rect x="135" y="355" width="5" height="2" fill="#000"/>
<rect x="623" y="355" width="5" height="2" fill="#000"/>
<rect x="135" y="454" width="5" height="2" fill="#000"/>
<rect x="623" y="454" width="5" height="2" fill="#000"/>
<rect x="135" y="524" width="5" height="2" fill="#000"/>
<rect x="623" y="524" width="5" height="2" fill="#000"/>
<rect x="135" y="595" width="5" height="2" fill="#000"/>
<rect x="623" y="595" width="5" height="2" fill="#000"/>
<rect x="135" y="665" width="5" height="2" fill="#000"/>
<rect x="623" y="665" width="5" height="2" fill="#000"/>
<rect x="135" y="735" width="5" height="2" fill="#000"/>
<rect x="623" y="735" width="5" height="2" fill="#000"/>
<rect x="135" y="834" width="5" height="2" fill="#000"/>
<rect x="623" y="834" width="5" height="2" fill="#000"/>
<rect x="135" y="905" width="5" height="2" fill="#000"/>
<rect x="623" y="905" width="5" height="2" fill="#000"/>
<rect x="135" y="975" width="5" height="2" fill="#000"/>
<rect x="623" y="975" width="5" height="2" fill="#000"/>
<rect x="135" y="1046" width="5" height="2" fill="#000"/>
<rect x="623" y="1046" width="5" height="2" fill="#000"/>
<rect x="135" y="1116" width="5" height="2" fill="#000"/>
<rect x="623" y="1116" width="5" height="2" fill="#000"/>
<rect x="135" y="1215" width="5" height="2" fill="#000"/>
<rect x="623" y="1215" width="5" height="2" fill="#000"/>
<rect x="135" y="1285" width="5" height="2" fill="#000"/>
<rect x="623" y="1285" width="5" height="2" fill="#000"/>
<rect x="135" y="1356" width="5" height="2" fill="#000"/>
<rect x="623" y="1356" width="5" height="2" fill="#000"/>
<rect x="135" y="1426" width="5" height="2" fill="#000"/>
<rect x="623" y="1426" width="5" height="2" fill="#000"/>
<rect x="135" y="1496" width="5" height="2" fill="#000"/>
<rect x="623" y="1496" width="5" height="2" fill="#000"/>
<rect x="161" y="1527" width="2" height="3" fill="#000"/>
<rect x="272" y="1527" width="2" height="3" fill="#000"/>
<rect x="383" y="1527" width="2" height="3" fill="#000"/>
<rect x="493" y="1527" width="2" height="3" fill="#000"/>
<rect x="604" y="1527" width="2" height="3" fill="#000"/>
<rect x="649" y="1527" width="2" height="3" fill="#000"/>
<rect x="760" y="1527" width="2" height="3" fill="#000"/>
<rect x="871" y="1527" width="2" height="3" fill="#000"/>
<rect x="981" y="1527" width="2" height="3" fill="#000"/>
<rect x="1092" y="1527" width="2" height="3" fill="#000"/></g>
<g shape-rendering="auto" style="will-change:transform"><text x="380.0" y="29.6" class="tt" text-anchor="middle">Aesculus hippocastanum</text><text x="868.0" y="29.6" class="tt" text-anchor="middle">Alnus glutinosa</text><text x="127" y="83.0" class="yl" text-anchor="end">55°N</text><text x="127" y="224.0" class="yl" text-anchor="end">50°N</text><text x="127" y="365.0" class="yl" text-anchor="end">45°N</text><text x="380.0" y="410.6" class="tt" text-anchor="middle">Betula pendula</text><text x="868.0" y="410.6" class="tt" text-anchor="middle">Fagus sylvatica</text><text x="127" y="464.0" class="yl" text-anchor="end">55°N</text><text x="127" y="605.0" class="yl" text-anchor="end">50°N</text><text x="127" y="745.0" class="yl" text-anchor="end">45°N</text><text x="377.5" y="790.6" class="tt" text-anchor="middle">Fraxinus excelsior</text><text x="865.0" y="790.6" class="tt" text-anchor="middle">Quercus robur</text><text x="127" y="844.0" class="yl" text-anchor="end">55°N</text><text x="127" y="985.0" class="yl" text-anchor="end">50°N</text><text x="127" y="1126.0" class="yl" text-anchor="end">45°N</text><text x="380.0" y="1171.6" class="tt" text-anchor="middle">Tilia cordata</text><text x="872.5" y="1171.6" class="tt2" text-anchor="middle">All</text><text x="127" y="1225.0" class="yl" text-anchor="end">55°N</text><text x="127" y="1366.0" class="yl" text-anchor="end">50°N</text><text x="127" y="1506.0" class="yl" text-anchor="end">45°N</text><text x="164.0" y="1565" class="xl" text-anchor="middle">30</text><text x="274.7" y="1565" class="xl" text-anchor="middle">45</text><text x="385.5" y="1565" class="xl" text-anchor="middle">60</text><text x="496.2" y="1565" class="xl" text-anchor="middle">75</text><text x="607.0" y="1565" class="xl" text-anchor="middle">90</text><text x="377" y="1605" class="ax" text-anchor="middle">Chilling days (days)</text><text x="649.5" y="1563" class="xl" text-anchor="middle">30</text><text x="760.2" y="1563" class="xl" text-anchor="middle">45</text><text x="871.0" y="1563" class="xl" text-anchor="middle">60</text><text x="981.7" y="1563" class="xl" text-anchor="middle">75</text><text x="1092.5" y="1563" class="xl" text-anchor="middle">90</text><text x="865" y="1603" class="ax" text-anchor="middle">Chilling days (days)</text><text x="25" y="808.5" class="ax" text-anchor="middle" transform="rotate(-90 25 808.5)">Latitude</text><text x="140.4" y="1702" class="cl" text-anchor="middle">&lt;-5</text><text x="381" y="1702" class="cl" text-anchor="middle">-3</text><text x="624" y="1702" class="cl" text-anchor="middle">-1</text><text x="871" y="1702" class="cl" text-anchor="middle">1</text><text x="1112.8" y="1702" class="cl" text-anchor="middle">&gt;3</text><text x="265.9" y="1750" class="lb">Difference of S</text><text x="433" y="1764.3" class="lbs">T</text><text x="453.9" y="1750" class="lb">between 1999-2013 and 1980-1994 (days</text><ellipse cx="930" cy="1736" rx="3" ry="4" fill="none" stroke="#000" stroke-width="1.6"/><text x="933.8" y="1750" class="lb">C</text><text x="951.3" y="1740.7" class="lbs">-1</text><text x="967.3" y="1750" class="lb">)</text></g>
</svg>
</body></html>
